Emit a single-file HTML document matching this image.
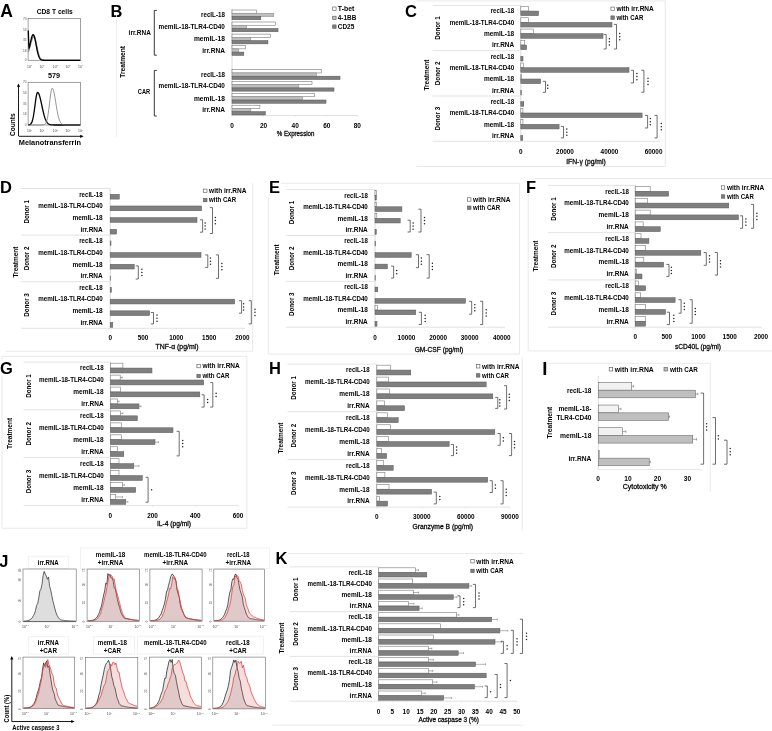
<!DOCTYPE html>
<html><head><meta charset="utf-8"><title>Figure</title>
<style>html,body{margin:0;padding:0;background:#fff;width:772px;height:731px;overflow:hidden}</style>
</head><body>
<svg width="772" height="731" viewBox="0 0 772 731" style="display:block">
<style>text{stroke:#1a1a1a;stroke-width:0.0px;paint-order:stroke} text[font-weight=bold]{stroke-width:0.0px} text.t{stroke:none} text.r{stroke:#222;stroke-width:0.28px}</style>
<g font-family="'Liberation Sans', Arial, sans-serif">
<path d="M416.3 0.9H665.3V166.5H416.3" fill="none" stroke="#e4e4e4" stroke-width="0.8"/>
<rect x="404" y="3.83" width="13.2" height="14.19" fill="#fff"/>
<text x="405" y="16.7" font-size="16.5" font-weight="bold" fill="#000">C</text>
<line x1="432.6" y1="5.4" x2="520.8" y2="5.4" stroke="#dcdcdc" stroke-width="0.8"/>
<line x1="432.6" y1="50.7" x2="520.8" y2="50.7" stroke="#dcdcdc" stroke-width="0.8"/>
<line x1="432.6" y1="96" x2="520.8" y2="96" stroke="#dcdcdc" stroke-width="0.8"/>
<line x1="432.6" y1="141.3" x2="520.8" y2="141.3" stroke="#dcdcdc" stroke-width="0.8"/>
<line x1="520.8" y1="5.4" x2="520.8" y2="141.3" stroke="#cfcfcf" stroke-width="0.8"/>
<line x1="520.8" y1="141.3" x2="660" y2="141.3" stroke="#dcdcdc" stroke-width="0.8"/>
<line x1="520.8" y1="141.3" x2="520.8" y2="142.8" stroke="#dcdcdc" stroke-width="0.6"/>
<line x1="565" y1="141.3" x2="565" y2="142.8" stroke="#dcdcdc" stroke-width="0.6"/>
<line x1="609.5" y1="141.3" x2="609.5" y2="142.8" stroke="#dcdcdc" stroke-width="0.6"/>
<line x1="653.6" y1="141.3" x2="653.6" y2="142.8" stroke="#dcdcdc" stroke-width="0.6"/>
<text x="514.2" y="13.35" font-size="6.35" text-anchor="end" font-weight="bold" textLength="23.5" lengthAdjust="spacingAndGlyphs">recIL-18</text>
<text x="514.2" y="24.67" font-size="6.35" text-anchor="end" font-weight="bold" textLength="64.5" lengthAdjust="spacingAndGlyphs">memIL-18-TLR4-CD40</text>
<text x="514.2" y="36" font-size="6.35" text-anchor="end" font-weight="bold" textLength="30.3" lengthAdjust="spacingAndGlyphs">memIL-18</text>
<text x="514.2" y="47.32" font-size="6.35" text-anchor="end" font-weight="bold" textLength="22.3" lengthAdjust="spacingAndGlyphs">irr.RNA</text>
<text x="514.2" y="58.65" font-size="6.35" text-anchor="end" font-weight="bold" textLength="23.5" lengthAdjust="spacingAndGlyphs">recIL-18</text>
<text x="514.2" y="69.97" font-size="6.35" text-anchor="end" font-weight="bold" textLength="64.5" lengthAdjust="spacingAndGlyphs">memIL-18-TLR4-CD40</text>
<text x="514.2" y="81.3" font-size="6.35" text-anchor="end" font-weight="bold" textLength="30.3" lengthAdjust="spacingAndGlyphs">memIL-18</text>
<text x="514.2" y="92.62" font-size="6.35" text-anchor="end" font-weight="bold" textLength="22.3" lengthAdjust="spacingAndGlyphs">irr.RNA</text>
<text x="514.2" y="103.95" font-size="6.35" text-anchor="end" font-weight="bold" textLength="23.5" lengthAdjust="spacingAndGlyphs">recIL-18</text>
<text x="514.2" y="115.27" font-size="6.35" text-anchor="end" font-weight="bold" textLength="64.5" lengthAdjust="spacingAndGlyphs">memIL-18-TLR4-CD40</text>
<text x="514.2" y="126.6" font-size="6.35" text-anchor="end" font-weight="bold" textLength="30.3" lengthAdjust="spacingAndGlyphs">memIL-18</text>
<text x="514.2" y="137.92" font-size="6.35" text-anchor="end" font-weight="bold" textLength="22.3" lengthAdjust="spacingAndGlyphs">irr.RNA</text>
<text x="439.88" y="28.05" font-size="6.6" text-anchor="middle" font-weight="bold" textLength="23.6" lengthAdjust="spacingAndGlyphs" transform="rotate(-90 439.88 28.05)">Donor 1</text>
<text x="439.88" y="73.35" font-size="6.6" text-anchor="middle" font-weight="bold" textLength="23.6" lengthAdjust="spacingAndGlyphs" transform="rotate(-90 439.88 73.35)">Donor 2</text>
<text x="439.88" y="118.65" font-size="6.6" text-anchor="middle" font-weight="bold" textLength="23.6" lengthAdjust="spacingAndGlyphs" transform="rotate(-90 439.88 118.65)">Donor 3</text>
<text x="428.68" y="75" font-size="6.6" text-anchor="middle" font-weight="bold" textLength="31" lengthAdjust="spacingAndGlyphs" transform="rotate(-90 428.68 75)">Treatment</text>
<rect x="520.8" y="6.42" width="7.8" height="4.64" fill="#fff" stroke="#7a7a7a" stroke-width="0.6"/>
<rect x="520.8" y="11.06" width="17.7" height="4.64" fill="#7f7f7f" stroke="#5a5a5a" stroke-width="0.5"/>
<rect x="520.8" y="17.74" width="7.8" height="4.64" fill="#fff" stroke="#7a7a7a" stroke-width="0.6"/>
<rect x="520.8" y="22.39" width="91.2" height="4.64" fill="#7f7f7f" stroke="#5a5a5a" stroke-width="0.5"/>
<rect x="520.8" y="29.07" width="12.7" height="4.64" fill="#fff" stroke="#7a7a7a" stroke-width="0.6"/>
<rect x="520.8" y="33.71" width="82.2" height="4.64" fill="#7f7f7f" stroke="#5a5a5a" stroke-width="0.5"/>
<rect x="520.8" y="40.39" width="3.9" height="4.64" fill="#fff" stroke="#7a7a7a" stroke-width="0.6"/>
<rect x="520.8" y="45.04" width="5.9" height="4.64" fill="#7f7f7f" stroke="#5a5a5a" stroke-width="0.5"/>
<rect x="520.8" y="56.36" width="2.2" height="4.64" fill="#7f7f7f" stroke="#5a5a5a" stroke-width="0.5"/>
<rect x="520.8" y="63.04" width="2.6" height="4.64" fill="#fff" stroke="#7a7a7a" stroke-width="0.6"/>
<rect x="520.8" y="67.69" width="108.2" height="4.64" fill="#7f7f7f" stroke="#5a5a5a" stroke-width="0.5"/>
<rect x="520.8" y="74.37" width="0.5" height="4.64" fill="#fff" stroke="#7a7a7a" stroke-width="0.6"/>
<rect x="520.8" y="79.01" width="19.9" height="4.64" fill="#7f7f7f" stroke="#5a5a5a" stroke-width="0.5"/>
<rect x="520.8" y="90.34" width="0.6" height="4.64" fill="#7f7f7f" stroke="#5a5a5a" stroke-width="0.5"/>
<rect x="520.8" y="101.66" width="3" height="4.64" fill="#7f7f7f" stroke="#5a5a5a" stroke-width="0.5"/>
<rect x="520.8" y="108.34" width="2.1" height="4.64" fill="#fff" stroke="#7a7a7a" stroke-width="0.6"/>
<rect x="520.8" y="112.99" width="121.3" height="4.64" fill="#7f7f7f" stroke="#5a5a5a" stroke-width="0.5"/>
<rect x="520.8" y="119.67" width="2.1" height="4.64" fill="#fff" stroke="#7a7a7a" stroke-width="0.6"/>
<rect x="520.8" y="124.31" width="38.3" height="4.64" fill="#7f7f7f" stroke="#5a5a5a" stroke-width="0.5"/>
<rect x="520.8" y="135.64" width="2" height="4.64" fill="#7f7f7f" stroke="#5a5a5a" stroke-width="0.5"/>
<text x="520.8" y="154" font-size="6.4" text-anchor="middle" font-weight="bold">0</text>
<text x="565" y="154" font-size="6.4" text-anchor="middle" font-weight="bold">20000</text>
<text x="609.5" y="154" font-size="6.4" text-anchor="middle" font-weight="bold">40000</text>
<text x="653.6" y="154" font-size="6.4" text-anchor="middle" font-weight="bold">60000</text>
<text x="586" y="163.9" font-size="6.6" text-anchor="middle" class="r" textLength="39.6" lengthAdjust="spacingAndGlyphs">IFN-γ (pg/ml)</text>
<rect x="610.9" y="7.1" width="3.4" height="3.4" fill="#fff" stroke="#555" stroke-width="0.6"/>
<rect x="610.9" y="15.9" width="3.4" height="3.4" fill="#7f7f7f" stroke="#555" stroke-width="0.6"/>
<text x="616.4" y="11.1" font-size="6.6" font-weight="bold" textLength="37.4" lengthAdjust="spacingAndGlyphs">with irr.RNA</text>
<text x="616.4" y="19.9" font-size="6.6" font-weight="bold" textLength="27" lengthAdjust="spacingAndGlyphs">with CAR</text>
<path d="M603.6 34.6H606.2V49H603.6" fill="none" stroke="#4a4a4a" stroke-width="0.8"/>
<circle cx="609.4" cy="38.7" r="0.75" fill="#222"/>
<circle cx="609.4" cy="41.8" r="0.75" fill="#222"/>
<circle cx="609.4" cy="44.9" r="0.75" fill="#222"/>
<path d="M613.9 24.4H616.5V49H613.9" fill="none" stroke="#4a4a4a" stroke-width="0.8"/>
<circle cx="619.7" cy="33.6" r="0.75" fill="#222"/>
<circle cx="619.7" cy="36.7" r="0.75" fill="#222"/>
<circle cx="619.7" cy="39.8" r="0.75" fill="#222"/>
<path d="M542.9 81.3H545.5V92.3H542.9" fill="none" stroke="#4a4a4a" stroke-width="0.8"/>
<circle cx="547.7" cy="85.25" r="0.75" fill="#222"/>
<circle cx="547.7" cy="88.35" r="0.75" fill="#222"/>
<path d="M630.9 70.3H633.5V82.9H630.9" fill="none" stroke="#4a4a4a" stroke-width="0.8"/>
<circle cx="636.9" cy="73.5" r="0.75" fill="#222"/>
<circle cx="636.9" cy="76.6" r="0.75" fill="#222"/>
<circle cx="636.9" cy="79.7" r="0.75" fill="#222"/>
<path d="M641.3 70.3H643.9V92.3H641.3" fill="none" stroke="#4a4a4a" stroke-width="0.8"/>
<circle cx="648" cy="78.2" r="0.75" fill="#222"/>
<circle cx="648" cy="81.3" r="0.75" fill="#222"/>
<circle cx="648" cy="84.4" r="0.75" fill="#222"/>
<path d="M560.9 126.4H563.5V137.9H560.9" fill="none" stroke="#4a4a4a" stroke-width="0.8"/>
<circle cx="566.8" cy="129.05" r="0.75" fill="#222"/>
<circle cx="566.8" cy="132.15" r="0.75" fill="#222"/>
<circle cx="566.8" cy="135.25" r="0.75" fill="#222"/>
<path d="M645 115.4H647.6V128H645" fill="none" stroke="#4a4a4a" stroke-width="0.8"/>
<circle cx="650.3" cy="118.6" r="0.75" fill="#222"/>
<circle cx="650.3" cy="121.7" r="0.75" fill="#222"/>
<circle cx="650.3" cy="124.8" r="0.75" fill="#222"/>
<path d="M654.5 115.4H657.1V137.9H654.5" fill="none" stroke="#4a4a4a" stroke-width="0.8"/>
<circle cx="661.3" cy="123.55" r="0.75" fill="#222"/>
<circle cx="661.3" cy="126.65" r="0.75" fill="#222"/>
<circle cx="661.3" cy="129.75" r="0.75" fill="#222"/>
<path d="M252.6 183V351.3H5.9" fill="none" stroke="#e4e4e4" stroke-width="0.8"/>
<rect x="-1" y="179.83" width="13.2" height="14.19" fill="#fff"/>
<text x="0" y="192.7" font-size="16.5" font-weight="bold" fill="#000">D</text>
<line x1="21" y1="188.5" x2="110.2" y2="188.5" stroke="#dcdcdc" stroke-width="0.8"/>
<line x1="21" y1="235.1" x2="110.2" y2="235.1" stroke="#dcdcdc" stroke-width="0.8"/>
<line x1="21" y1="281.7" x2="110.2" y2="281.7" stroke="#dcdcdc" stroke-width="0.8"/>
<line x1="21" y1="328.3" x2="110.2" y2="328.3" stroke="#dcdcdc" stroke-width="0.8"/>
<line x1="110.2" y1="188.5" x2="110.2" y2="328.3" stroke="#cfcfcf" stroke-width="0.8"/>
<line x1="110.2" y1="328.3" x2="245" y2="328.3" stroke="#dcdcdc" stroke-width="0.8"/>
<line x1="110.2" y1="328.3" x2="110.2" y2="329.8" stroke="#dcdcdc" stroke-width="0.6"/>
<line x1="143.1" y1="328.3" x2="143.1" y2="329.8" stroke="#dcdcdc" stroke-width="0.6"/>
<line x1="176.3" y1="328.3" x2="176.3" y2="329.8" stroke="#dcdcdc" stroke-width="0.6"/>
<line x1="209.2" y1="328.3" x2="209.2" y2="329.8" stroke="#dcdcdc" stroke-width="0.6"/>
<line x1="242.4" y1="328.3" x2="242.4" y2="329.8" stroke="#dcdcdc" stroke-width="0.6"/>
<text x="102.7" y="196.61" font-size="6.35" text-anchor="end" font-weight="bold" textLength="23.5" lengthAdjust="spacingAndGlyphs">recIL-18</text>
<text x="102.7" y="208.26" font-size="6.35" text-anchor="end" font-weight="bold" textLength="64.5" lengthAdjust="spacingAndGlyphs">memIL-18-TLR4-CD40</text>
<text x="102.7" y="219.91" font-size="6.35" text-anchor="end" font-weight="bold" textLength="30.3" lengthAdjust="spacingAndGlyphs">memIL-18</text>
<text x="102.7" y="231.56" font-size="6.35" text-anchor="end" font-weight="bold" textLength="22.3" lengthAdjust="spacingAndGlyphs">irr.RNA</text>
<text x="102.7" y="243.21" font-size="6.35" text-anchor="end" font-weight="bold" textLength="23.5" lengthAdjust="spacingAndGlyphs">recIL-18</text>
<text x="102.7" y="254.86" font-size="6.35" text-anchor="end" font-weight="bold" textLength="64.5" lengthAdjust="spacingAndGlyphs">memIL-18-TLR4-CD40</text>
<text x="102.7" y="266.51" font-size="6.35" text-anchor="end" font-weight="bold" textLength="30.3" lengthAdjust="spacingAndGlyphs">memIL-18</text>
<text x="102.7" y="278.16" font-size="6.35" text-anchor="end" font-weight="bold" textLength="22.3" lengthAdjust="spacingAndGlyphs">irr.RNA</text>
<text x="102.7" y="289.81" font-size="6.35" text-anchor="end" font-weight="bold" textLength="23.5" lengthAdjust="spacingAndGlyphs">recIL-18</text>
<text x="102.7" y="301.46" font-size="6.35" text-anchor="end" font-weight="bold" textLength="64.5" lengthAdjust="spacingAndGlyphs">memIL-18-TLR4-CD40</text>
<text x="102.7" y="313.11" font-size="6.35" text-anchor="end" font-weight="bold" textLength="30.3" lengthAdjust="spacingAndGlyphs">memIL-18</text>
<text x="102.7" y="324.76" font-size="6.35" text-anchor="end" font-weight="bold" textLength="22.3" lengthAdjust="spacingAndGlyphs">irr.RNA</text>
<text x="29.28" y="211.8" font-size="6.6" text-anchor="middle" font-weight="bold" textLength="23.6" lengthAdjust="spacingAndGlyphs" transform="rotate(-90 29.28 211.8)">Donor 1</text>
<text x="29.28" y="258.4" font-size="6.6" text-anchor="middle" font-weight="bold" textLength="23.6" lengthAdjust="spacingAndGlyphs" transform="rotate(-90 29.28 258.4)">Donor 2</text>
<text x="29.28" y="305" font-size="6.6" text-anchor="middle" font-weight="bold" textLength="23.6" lengthAdjust="spacingAndGlyphs" transform="rotate(-90 29.28 305)">Donor 3</text>
<text x="17.58" y="262" font-size="6.6" text-anchor="middle" font-weight="bold" textLength="31" lengthAdjust="spacingAndGlyphs" transform="rotate(-90 17.58 262)">Treatment</text>
<rect x="110.2" y="194.32" width="9.1" height="4.78" fill="#7f7f7f" stroke="#5a5a5a" stroke-width="0.5"/>
<rect x="110.2" y="205.97" width="91.4" height="4.78" fill="#7f7f7f" stroke="#5a5a5a" stroke-width="0.5"/>
<rect x="110.2" y="217.62" width="86.8" height="4.78" fill="#7f7f7f" stroke="#5a5a5a" stroke-width="0.5"/>
<rect x="110.2" y="229.28" width="6.4" height="4.78" fill="#7f7f7f" stroke="#5a5a5a" stroke-width="0.5"/>
<rect x="110.2" y="240.93" width="0.8" height="4.78" fill="#7f7f7f" stroke="#5a5a5a" stroke-width="0.5"/>
<rect x="110.2" y="252.57" width="90.8" height="4.78" fill="#7f7f7f" stroke="#5a5a5a" stroke-width="0.5"/>
<rect x="110.2" y="264.23" width="24" height="4.78" fill="#7f7f7f" stroke="#5a5a5a" stroke-width="0.5"/>
<rect x="110.2" y="275.88" width="0.4" height="4.78" fill="#7f7f7f" stroke="#5a5a5a" stroke-width="0.5"/>
<rect x="110.2" y="287.52" width="1.2" height="4.78" fill="#7f7f7f" stroke="#5a5a5a" stroke-width="0.5"/>
<rect x="110.2" y="299.18" width="124.5" height="4.78" fill="#7f7f7f" stroke="#5a5a5a" stroke-width="0.5"/>
<rect x="110.2" y="310.82" width="39.5" height="4.78" fill="#7f7f7f" stroke="#5a5a5a" stroke-width="0.5"/>
<rect x="110.2" y="322.48" width="2.6" height="4.78" fill="#7f7f7f" stroke="#5a5a5a" stroke-width="0.5"/>
<text x="110.2" y="340.2" font-size="6.4" text-anchor="middle" font-weight="bold">0</text>
<text x="143.1" y="340.2" font-size="6.4" text-anchor="middle" font-weight="bold">500</text>
<text x="176.3" y="340.2" font-size="6.4" text-anchor="middle" font-weight="bold">1000</text>
<text x="209.2" y="340.2" font-size="6.4" text-anchor="middle" font-weight="bold">1500</text>
<text x="242.4" y="340.2" font-size="6.4" text-anchor="middle" font-weight="bold">2000</text>
<text x="177" y="349.2" font-size="6.6" text-anchor="middle" class="r" textLength="42.9" lengthAdjust="spacingAndGlyphs">TNF-α (pg/ml)</text>
<rect x="203.6" y="189.1" width="3.4" height="3.4" fill="#fff" stroke="#555" stroke-width="0.6"/>
<rect x="203.6" y="198.4" width="3.4" height="3.4" fill="#7f7f7f" stroke="#555" stroke-width="0.6"/>
<text x="209.1" y="193.1" font-size="6.6" font-weight="bold" textLength="37.4" lengthAdjust="spacingAndGlyphs">with irr.RNA</text>
<text x="209.1" y="202.4" font-size="6.6" font-weight="bold" textLength="27" lengthAdjust="spacingAndGlyphs">with CAR</text>
<path d="M200 219.8H202.6V232.2H200" fill="none" stroke="#4a4a4a" stroke-width="0.8"/>
<circle cx="205.1" cy="222.9" r="0.75" fill="#222"/>
<circle cx="205.1" cy="226" r="0.75" fill="#222"/>
<circle cx="205.1" cy="229.1" r="0.75" fill="#222"/>
<path d="M209.9 207.6H212.5V233.5H209.9" fill="none" stroke="#4a4a4a" stroke-width="0.8"/>
<circle cx="215.4" cy="217.45" r="0.75" fill="#222"/>
<circle cx="215.4" cy="220.55" r="0.75" fill="#222"/>
<circle cx="215.4" cy="223.65" r="0.75" fill="#222"/>
<path d="M135.7 265.9H138.3V279H135.7" fill="none" stroke="#4a4a4a" stroke-width="0.8"/>
<circle cx="141.9" cy="269.35" r="0.75" fill="#222"/>
<circle cx="141.9" cy="272.45" r="0.75" fill="#222"/>
<circle cx="141.9" cy="275.55" r="0.75" fill="#222"/>
<path d="M205.2 254.9H207.8V267.4H205.2" fill="none" stroke="#4a4a4a" stroke-width="0.8"/>
<circle cx="210.5" cy="258.05" r="0.75" fill="#222"/>
<circle cx="210.5" cy="261.15" r="0.75" fill="#222"/>
<circle cx="210.5" cy="264.25" r="0.75" fill="#222"/>
<path d="M215.9 254.9H218.5V278.3H215.9" fill="none" stroke="#4a4a4a" stroke-width="0.8"/>
<circle cx="221.9" cy="263.5" r="0.75" fill="#222"/>
<circle cx="221.9" cy="266.6" r="0.75" fill="#222"/>
<circle cx="221.9" cy="269.7" r="0.75" fill="#222"/>
<path d="M150.9 312.5H153.5V323.9H150.9" fill="none" stroke="#4a4a4a" stroke-width="0.8"/>
<circle cx="157" cy="315.1" r="0.75" fill="#222"/>
<circle cx="157" cy="318.2" r="0.75" fill="#222"/>
<circle cx="157" cy="321.3" r="0.75" fill="#222"/>
<path d="M239 300.7H241.6V313.2H239" fill="none" stroke="#4a4a4a" stroke-width="0.8"/>
<circle cx="243.6" cy="303.85" r="0.75" fill="#222"/>
<circle cx="243.6" cy="306.95" r="0.75" fill="#222"/>
<circle cx="243.6" cy="310.05" r="0.75" fill="#222"/>
<path d="M248.7 300.7H251.3V323.9H248.7" fill="none" stroke="#4a4a4a" stroke-width="0.8"/>
<circle cx="255" cy="309.2" r="0.75" fill="#222"/>
<circle cx="255" cy="312.3" r="0.75" fill="#222"/>
<circle cx="255" cy="315.4" r="0.75" fill="#222"/>
<path d="M268.4 197V354.1H519.5V183.3H278.8" fill="none" stroke="#e4e4e4" stroke-width="0.8"/>
<rect x="268" y="179.83" width="13.2" height="14.19" fill="#fff"/>
<text x="269" y="192.7" font-size="16.5" font-weight="bold" fill="#000">E</text>
<line x1="285.8" y1="189.6" x2="375" y2="189.6" stroke="#dcdcdc" stroke-width="0.8"/>
<line x1="285.8" y1="235.47" x2="375" y2="235.47" stroke="#dcdcdc" stroke-width="0.8"/>
<line x1="285.8" y1="281.33" x2="375" y2="281.33" stroke="#dcdcdc" stroke-width="0.8"/>
<line x1="285.8" y1="327.2" x2="375" y2="327.2" stroke="#dcdcdc" stroke-width="0.8"/>
<line x1="375" y1="189.6" x2="375" y2="327.2" stroke="#cfcfcf" stroke-width="0.8"/>
<line x1="375" y1="327.2" x2="505" y2="327.2" stroke="#dcdcdc" stroke-width="0.8"/>
<line x1="375" y1="327.2" x2="375" y2="328.7" stroke="#dcdcdc" stroke-width="0.6"/>
<line x1="406.5" y1="327.2" x2="406.5" y2="328.7" stroke="#dcdcdc" stroke-width="0.6"/>
<line x1="438.2" y1="327.2" x2="438.2" y2="328.7" stroke="#dcdcdc" stroke-width="0.6"/>
<line x1="469.7" y1="327.2" x2="469.7" y2="328.7" stroke="#dcdcdc" stroke-width="0.6"/>
<line x1="501.8" y1="327.2" x2="501.8" y2="328.7" stroke="#dcdcdc" stroke-width="0.6"/>
<text x="367.8" y="197.62" font-size="6.35" text-anchor="end" font-weight="bold" textLength="23.5" lengthAdjust="spacingAndGlyphs">recIL-18</text>
<text x="367.8" y="209.09" font-size="6.35" text-anchor="end" font-weight="bold" textLength="64.5" lengthAdjust="spacingAndGlyphs">memIL-18-TLR4-CD40</text>
<text x="367.8" y="220.55" font-size="6.35" text-anchor="end" font-weight="bold" textLength="30.3" lengthAdjust="spacingAndGlyphs">memIL-18</text>
<text x="367.8" y="232.02" font-size="6.35" text-anchor="end" font-weight="bold" textLength="22.3" lengthAdjust="spacingAndGlyphs">irr.RNA</text>
<text x="367.8" y="243.49" font-size="6.35" text-anchor="end" font-weight="bold" textLength="23.5" lengthAdjust="spacingAndGlyphs">recIL-18</text>
<text x="367.8" y="254.95" font-size="6.35" text-anchor="end" font-weight="bold" textLength="64.5" lengthAdjust="spacingAndGlyphs">memIL-18-TLR4-CD40</text>
<text x="367.8" y="266.42" font-size="6.35" text-anchor="end" font-weight="bold" textLength="30.3" lengthAdjust="spacingAndGlyphs">memIL-18</text>
<text x="367.8" y="277.89" font-size="6.35" text-anchor="end" font-weight="bold" textLength="22.3" lengthAdjust="spacingAndGlyphs">irr.RNA</text>
<text x="367.8" y="289.35" font-size="6.35" text-anchor="end" font-weight="bold" textLength="23.5" lengthAdjust="spacingAndGlyphs">recIL-18</text>
<text x="367.8" y="300.82" font-size="6.35" text-anchor="end" font-weight="bold" textLength="64.5" lengthAdjust="spacingAndGlyphs">memIL-18-TLR4-CD40</text>
<text x="367.8" y="312.29" font-size="6.35" text-anchor="end" font-weight="bold" textLength="30.3" lengthAdjust="spacingAndGlyphs">memIL-18</text>
<text x="367.8" y="323.75" font-size="6.35" text-anchor="end" font-weight="bold" textLength="22.3" lengthAdjust="spacingAndGlyphs">irr.RNA</text>
<text x="294.18" y="212.53" font-size="6.6" text-anchor="middle" font-weight="bold" textLength="23.6" lengthAdjust="spacingAndGlyphs" transform="rotate(-90 294.18 212.53)">Donor 1</text>
<text x="294.18" y="258.4" font-size="6.6" text-anchor="middle" font-weight="bold" textLength="23.6" lengthAdjust="spacingAndGlyphs" transform="rotate(-90 294.18 258.4)">Donor 2</text>
<text x="294.18" y="304.27" font-size="6.6" text-anchor="middle" font-weight="bold" textLength="23.6" lengthAdjust="spacingAndGlyphs" transform="rotate(-90 294.18 304.27)">Donor 3</text>
<text x="278.78" y="259.8" font-size="6.6" text-anchor="middle" font-weight="bold" textLength="31" lengthAdjust="spacingAndGlyphs" transform="rotate(-90 278.78 259.8)">Treatment</text>
<rect x="375" y="190.63" width="1.3" height="4.7" fill="#fff" stroke="#7a7a7a" stroke-width="0.6"/>
<rect x="375" y="195.33" width="1.4" height="4.7" fill="#7f7f7f" stroke="#5a5a5a" stroke-width="0.5"/>
<rect x="375" y="202.1" width="1.5" height="4.7" fill="#fff" stroke="#7a7a7a" stroke-width="0.6"/>
<rect x="375" y="206.8" width="26.9" height="4.7" fill="#7f7f7f" stroke="#5a5a5a" stroke-width="0.5"/>
<rect x="375" y="213.57" width="1.8" height="4.7" fill="#fff" stroke="#7a7a7a" stroke-width="0.6"/>
<rect x="375" y="218.27" width="25.2" height="4.7" fill="#7f7f7f" stroke="#5a5a5a" stroke-width="0.5"/>
<rect x="375" y="229.73" width="1.3" height="4.7" fill="#7f7f7f" stroke="#5a5a5a" stroke-width="0.5"/>
<rect x="375" y="241.2" width="0.6" height="4.7" fill="#7f7f7f" stroke="#5a5a5a" stroke-width="0.5"/>
<rect x="375" y="252.67" width="36.2" height="4.7" fill="#7f7f7f" stroke="#5a5a5a" stroke-width="0.5"/>
<rect x="375" y="264.13" width="12.4" height="4.7" fill="#7f7f7f" stroke="#5a5a5a" stroke-width="0.5"/>
<rect x="375" y="275.6" width="0.3" height="4.7" fill="#7f7f7f" stroke="#5a5a5a" stroke-width="0.5"/>
<rect x="375" y="287.07" width="2.8" height="4.7" fill="#7f7f7f" stroke="#5a5a5a" stroke-width="0.5"/>
<rect x="375" y="298.53" width="90.5" height="4.7" fill="#7f7f7f" stroke="#5a5a5a" stroke-width="0.5"/>
<rect x="375" y="305.3" width="2.4" height="4.7" fill="#fff" stroke="#7a7a7a" stroke-width="0.6"/>
<rect x="375" y="310" width="40.8" height="4.7" fill="#7f7f7f" stroke="#5a5a5a" stroke-width="0.5"/>
<rect x="375" y="321.47" width="2" height="4.7" fill="#7f7f7f" stroke="#5a5a5a" stroke-width="0.5"/>
<text x="375" y="339.9" font-size="6.4" text-anchor="middle" font-weight="bold">0</text>
<text x="406.5" y="339.9" font-size="6.4" text-anchor="middle" font-weight="bold">10000</text>
<text x="438.2" y="339.9" font-size="6.4" text-anchor="middle" font-weight="bold">20000</text>
<text x="469.7" y="339.9" font-size="6.4" text-anchor="middle" font-weight="bold">30000</text>
<text x="501.8" y="339.9" font-size="6.4" text-anchor="middle" font-weight="bold">40000</text>
<text x="439" y="351.7" font-size="6.6" text-anchor="middle" class="r" textLength="48.7" lengthAdjust="spacingAndGlyphs">GM-CSF (pg/ml)</text>
<rect x="467.6" y="197.8" width="3.4" height="3.4" fill="#fff" stroke="#555" stroke-width="0.6"/>
<rect x="467.6" y="206" width="3.4" height="3.4" fill="#7f7f7f" stroke="#555" stroke-width="0.6"/>
<text x="473.1" y="201.8" font-size="6.6" font-weight="bold" textLength="37.4" lengthAdjust="spacingAndGlyphs">with irr.RNA</text>
<text x="473.1" y="210" font-size="6.6" font-weight="bold" textLength="27" lengthAdjust="spacingAndGlyphs">with CAR</text>
<path d="M407.6 220.2H410.2V232H407.6" fill="none" stroke="#4a4a4a" stroke-width="0.8"/>
<circle cx="413.1" cy="223" r="0.75" fill="#222"/>
<circle cx="413.1" cy="226.1" r="0.75" fill="#222"/>
<circle cx="413.1" cy="229.2" r="0.75" fill="#222"/>
<path d="M418.4 209.2H421V232H418.4" fill="none" stroke="#4a4a4a" stroke-width="0.8"/>
<circle cx="424.5" cy="217.5" r="0.75" fill="#222"/>
<circle cx="424.5" cy="220.6" r="0.75" fill="#222"/>
<circle cx="424.5" cy="223.7" r="0.75" fill="#222"/>
<path d="M391 266.1H393.6V278.1H391" fill="none" stroke="#4a4a4a" stroke-width="0.8"/>
<circle cx="396.7" cy="270.55" r="0.75" fill="#222"/>
<circle cx="396.7" cy="273.65" r="0.75" fill="#222"/>
<path d="M415.9 254.7H418.5V267.7H415.9" fill="none" stroke="#4a4a4a" stroke-width="0.8"/>
<circle cx="421.4" cy="258.1" r="0.75" fill="#222"/>
<circle cx="421.4" cy="261.2" r="0.75" fill="#222"/>
<circle cx="421.4" cy="264.3" r="0.75" fill="#222"/>
<path d="M426.6 254.7H429.2V278.1H426.6" fill="none" stroke="#4a4a4a" stroke-width="0.8"/>
<circle cx="432.4" cy="263.3" r="0.75" fill="#222"/>
<circle cx="432.4" cy="266.4" r="0.75" fill="#222"/>
<circle cx="432.4" cy="269.5" r="0.75" fill="#222"/>
<path d="M418.8 312.3H421.4V324.5H418.8" fill="none" stroke="#4a4a4a" stroke-width="0.8"/>
<circle cx="425.1" cy="315.3" r="0.75" fill="#222"/>
<circle cx="425.1" cy="318.4" r="0.75" fill="#222"/>
<circle cx="425.1" cy="321.5" r="0.75" fill="#222"/>
<path d="M469.1 301.3H471.7V314.2H469.1" fill="none" stroke="#4a4a4a" stroke-width="0.8"/>
<circle cx="474.8" cy="304.65" r="0.75" fill="#222"/>
<circle cx="474.8" cy="307.75" r="0.75" fill="#222"/>
<circle cx="474.8" cy="310.85" r="0.75" fill="#222"/>
<path d="M480.1 301.3H482.7V324.5H480.1" fill="none" stroke="#4a4a4a" stroke-width="0.8"/>
<circle cx="486.2" cy="309.8" r="0.75" fill="#222"/>
<circle cx="486.2" cy="312.9" r="0.75" fill="#222"/>
<circle cx="486.2" cy="316" r="0.75" fill="#222"/>
<path d="M534.5 178.5H773M528.2 193V350.9H773" fill="none" stroke="#e4e4e4" stroke-width="0.8"/>
<rect x="525" y="179.83" width="13.2" height="14.19" fill="#fff"/>
<text x="526" y="192.7" font-size="16.5" font-weight="bold" fill="#000">F</text>
<line x1="548.1" y1="185.4" x2="635.2" y2="185.4" stroke="#dcdcdc" stroke-width="0.8"/>
<line x1="548.1" y1="232.67" x2="635.2" y2="232.67" stroke="#dcdcdc" stroke-width="0.8"/>
<line x1="548.1" y1="279.93" x2="635.2" y2="279.93" stroke="#dcdcdc" stroke-width="0.8"/>
<line x1="548.1" y1="327.2" x2="635.2" y2="327.2" stroke="#dcdcdc" stroke-width="0.8"/>
<line x1="635.2" y1="185.4" x2="635.2" y2="327.2" stroke="#cfcfcf" stroke-width="0.8"/>
<line x1="635.2" y1="327.2" x2="761.5" y2="327.2" stroke="#dcdcdc" stroke-width="0.8"/>
<line x1="635.2" y1="327.2" x2="635.2" y2="328.7" stroke="#dcdcdc" stroke-width="0.6"/>
<line x1="666.8" y1="327.2" x2="666.8" y2="328.7" stroke="#dcdcdc" stroke-width="0.6"/>
<line x1="698.4" y1="327.2" x2="698.4" y2="328.7" stroke="#dcdcdc" stroke-width="0.6"/>
<line x1="729.7" y1="327.2" x2="729.7" y2="328.7" stroke="#dcdcdc" stroke-width="0.6"/>
<line x1="761" y1="327.2" x2="761" y2="328.7" stroke="#dcdcdc" stroke-width="0.6"/>
<text x="628.8" y="193.59" font-size="6.35" text-anchor="end" font-weight="bold" textLength="23.5" lengthAdjust="spacingAndGlyphs">recIL-18</text>
<text x="628.8" y="205.41" font-size="6.35" text-anchor="end" font-weight="bold" textLength="64.5" lengthAdjust="spacingAndGlyphs">memIL-18-TLR4-CD40</text>
<text x="628.8" y="217.23" font-size="6.35" text-anchor="end" font-weight="bold" textLength="30.3" lengthAdjust="spacingAndGlyphs">memIL-18</text>
<text x="628.8" y="229.04" font-size="6.35" text-anchor="end" font-weight="bold" textLength="22.3" lengthAdjust="spacingAndGlyphs">irr.RNA</text>
<text x="628.8" y="240.86" font-size="6.35" text-anchor="end" font-weight="bold" textLength="23.5" lengthAdjust="spacingAndGlyphs">recIL-18</text>
<text x="628.8" y="252.68" font-size="6.35" text-anchor="end" font-weight="bold" textLength="64.5" lengthAdjust="spacingAndGlyphs">memIL-18-TLR4-CD40</text>
<text x="628.8" y="264.49" font-size="6.35" text-anchor="end" font-weight="bold" textLength="30.3" lengthAdjust="spacingAndGlyphs">memIL-18</text>
<text x="628.8" y="276.31" font-size="6.35" text-anchor="end" font-weight="bold" textLength="22.3" lengthAdjust="spacingAndGlyphs">irr.RNA</text>
<text x="628.8" y="288.13" font-size="6.35" text-anchor="end" font-weight="bold" textLength="23.5" lengthAdjust="spacingAndGlyphs">recIL-18</text>
<text x="628.8" y="299.94" font-size="6.35" text-anchor="end" font-weight="bold" textLength="64.5" lengthAdjust="spacingAndGlyphs">memIL-18-TLR4-CD40</text>
<text x="628.8" y="311.76" font-size="6.35" text-anchor="end" font-weight="bold" textLength="30.3" lengthAdjust="spacingAndGlyphs">memIL-18</text>
<text x="628.8" y="323.58" font-size="6.35" text-anchor="end" font-weight="bold" textLength="22.3" lengthAdjust="spacingAndGlyphs">irr.RNA</text>
<text x="556.48" y="209.03" font-size="6.6" text-anchor="middle" font-weight="bold" textLength="23.6" lengthAdjust="spacingAndGlyphs" transform="rotate(-90 556.48 209.03)">Donor 1</text>
<text x="556.48" y="256.3" font-size="6.6" text-anchor="middle" font-weight="bold" textLength="23.6" lengthAdjust="spacingAndGlyphs" transform="rotate(-90 556.48 256.3)">Donor 2</text>
<text x="556.48" y="303.57" font-size="6.6" text-anchor="middle" font-weight="bold" textLength="23.6" lengthAdjust="spacingAndGlyphs" transform="rotate(-90 556.48 303.57)">Donor 3</text>
<text x="538.38" y="256" font-size="6.6" text-anchor="middle" font-weight="bold" textLength="31" lengthAdjust="spacingAndGlyphs" transform="rotate(-90 538.38 256)">Treatment</text>
<rect x="635.2" y="186.46" width="15" height="4.84" fill="#fff" stroke="#7a7a7a" stroke-width="0.6"/>
<rect x="635.2" y="191.31" width="33.4" height="4.84" fill="#7f7f7f" stroke="#5a5a5a" stroke-width="0.5"/>
<rect x="635.2" y="198.28" width="12.3" height="4.84" fill="#fff" stroke="#7a7a7a" stroke-width="0.6"/>
<rect x="635.2" y="203.12" width="93.6" height="4.84" fill="#7f7f7f" stroke="#5a5a5a" stroke-width="0.5"/>
<rect x="635.2" y="210.1" width="15" height="4.84" fill="#fff" stroke="#7a7a7a" stroke-width="0.6"/>
<rect x="635.2" y="214.94" width="103.3" height="4.84" fill="#7f7f7f" stroke="#5a5a5a" stroke-width="0.5"/>
<rect x="635.2" y="221.91" width="8" height="4.84" fill="#fff" stroke="#7a7a7a" stroke-width="0.6"/>
<rect x="635.2" y="226.76" width="25.1" height="4.84" fill="#7f7f7f" stroke="#5a5a5a" stroke-width="0.5"/>
<rect x="635.2" y="233.73" width="5.8" height="4.84" fill="#fff" stroke="#7a7a7a" stroke-width="0.6"/>
<rect x="635.2" y="238.57" width="13.7" height="4.84" fill="#7f7f7f" stroke="#5a5a5a" stroke-width="0.5"/>
<rect x="635.2" y="245.55" width="10.4" height="4.84" fill="#fff" stroke="#7a7a7a" stroke-width="0.6"/>
<rect x="635.2" y="250.39" width="65.6" height="4.84" fill="#7f7f7f" stroke="#5a5a5a" stroke-width="0.5"/>
<rect x="635.2" y="257.36" width="8.6" height="4.84" fill="#fff" stroke="#7a7a7a" stroke-width="0.6"/>
<rect x="635.2" y="262.21" width="28.5" height="4.84" fill="#7f7f7f" stroke="#5a5a5a" stroke-width="0.5"/>
<rect x="635.2" y="269.18" width="1.3" height="4.84" fill="#fff" stroke="#7a7a7a" stroke-width="0.6"/>
<rect x="635.2" y="274.02" width="6.8" height="4.84" fill="#7f7f7f" stroke="#5a5a5a" stroke-width="0.5"/>
<rect x="635.2" y="281" width="3.1" height="4.84" fill="#fff" stroke="#7a7a7a" stroke-width="0.6"/>
<rect x="635.2" y="285.84" width="10.4" height="4.84" fill="#7f7f7f" stroke="#5a5a5a" stroke-width="0.5"/>
<rect x="635.2" y="292.81" width="5.5" height="4.84" fill="#fff" stroke="#7a7a7a" stroke-width="0.6"/>
<rect x="635.2" y="297.66" width="39.9" height="4.84" fill="#7f7f7f" stroke="#5a5a5a" stroke-width="0.5"/>
<rect x="635.2" y="304.63" width="10.4" height="4.84" fill="#fff" stroke="#7a7a7a" stroke-width="0.6"/>
<rect x="635.2" y="309.47" width="30.3" height="4.84" fill="#7f7f7f" stroke="#5a5a5a" stroke-width="0.5"/>
<rect x="635.2" y="316.45" width="10.4" height="4.84" fill="#fff" stroke="#7a7a7a" stroke-width="0.6"/>
<rect x="635.2" y="321.29" width="10.4" height="4.84" fill="#7f7f7f" stroke="#5a5a5a" stroke-width="0.5"/>
<text x="635.2" y="339.1" font-size="6.4" text-anchor="middle" font-weight="bold">0</text>
<text x="666.8" y="339.1" font-size="6.4" text-anchor="middle" font-weight="bold">500</text>
<text x="698.4" y="339.1" font-size="6.4" text-anchor="middle" font-weight="bold">1000</text>
<text x="729.7" y="339.1" font-size="6.4" text-anchor="middle" font-weight="bold">1500</text>
<text x="761" y="339.1" font-size="6.4" text-anchor="middle" font-weight="bold">2000</text>
<text x="698" y="348.6" font-size="6.6" text-anchor="middle" class="r" textLength="45.9" lengthAdjust="spacingAndGlyphs">sCD40L (pg/ml)</text>
<rect x="721.4" y="185.8" width="3.4" height="3.4" fill="#fff" stroke="#555" stroke-width="0.6"/>
<rect x="721.4" y="194.8" width="3.4" height="3.4" fill="#7f7f7f" stroke="#555" stroke-width="0.6"/>
<text x="726.9" y="189.8" font-size="6.6" font-weight="bold" textLength="37.4" lengthAdjust="spacingAndGlyphs">with irr.RNA</text>
<text x="726.9" y="198.8" font-size="6.6" font-weight="bold" textLength="27" lengthAdjust="spacingAndGlyphs">with CAR</text>
<path d="M740 215.8H742.6V228.3H740" fill="none" stroke="#4a4a4a" stroke-width="0.8"/>
<circle cx="745.9" cy="218.95" r="0.75" fill="#222"/>
<circle cx="745.9" cy="222.05" r="0.75" fill="#222"/>
<circle cx="745.9" cy="225.15" r="0.75" fill="#222"/>
<path d="M751 204.4H753.6V228.3H751" fill="none" stroke="#4a4a4a" stroke-width="0.8"/>
<circle cx="756.9" cy="213.25" r="0.75" fill="#222"/>
<circle cx="756.9" cy="216.35" r="0.75" fill="#222"/>
<circle cx="756.9" cy="219.45" r="0.75" fill="#222"/>
<path d="M666.4 264.4H669V276.4H666.4" fill="none" stroke="#4a4a4a" stroke-width="0.8"/>
<circle cx="671.4" cy="267.3" r="0.75" fill="#222"/>
<circle cx="671.4" cy="270.4" r="0.75" fill="#222"/>
<circle cx="671.4" cy="273.5" r="0.75" fill="#222"/>
<path d="M703.7 252.5H706.3V265.3H703.7" fill="none" stroke="#4a4a4a" stroke-width="0.8"/>
<circle cx="709.5" cy="255.8" r="0.75" fill="#222"/>
<circle cx="709.5" cy="258.9" r="0.75" fill="#222"/>
<circle cx="709.5" cy="262" r="0.75" fill="#222"/>
<path d="M714.8 252.5H717.4V275.1H714.8" fill="none" stroke="#4a4a4a" stroke-width="0.8"/>
<circle cx="720.5" cy="260.7" r="0.75" fill="#222"/>
<circle cx="720.5" cy="263.8" r="0.75" fill="#222"/>
<circle cx="720.5" cy="266.9" r="0.75" fill="#222"/>
<path d="M666.9 312.2H669.5V324.6H666.9" fill="none" stroke="#4a4a4a" stroke-width="0.8"/>
<circle cx="673.8" cy="315.3" r="0.75" fill="#222"/>
<circle cx="673.8" cy="318.4" r="0.75" fill="#222"/>
<circle cx="673.8" cy="321.5" r="0.75" fill="#222"/>
<path d="M678.5 299.7H681.1V313.2H678.5" fill="none" stroke="#4a4a4a" stroke-width="0.8"/>
<circle cx="684.3" cy="303.35" r="0.75" fill="#222"/>
<circle cx="684.3" cy="306.45" r="0.75" fill="#222"/>
<circle cx="684.3" cy="309.55" r="0.75" fill="#222"/>
<path d="M689.6 299.7H692.2V323.3H689.6" fill="none" stroke="#4a4a4a" stroke-width="0.8"/>
<circle cx="695.3" cy="308.4" r="0.75" fill="#222"/>
<circle cx="695.3" cy="311.5" r="0.75" fill="#222"/>
<circle cx="695.3" cy="314.6" r="0.75" fill="#222"/>
<path d="M2 356.4H246.8V528.3H2Z" fill="none" stroke="#e4e4e4" stroke-width="0.8"/>
<rect x="-1" y="361.53" width="13.2" height="14.19" fill="#fff"/>
<text x="0" y="374.4" font-size="16.5" font-weight="bold" fill="#000">G</text>
<line x1="23.6" y1="362.1" x2="110.4" y2="362.1" stroke="#dcdcdc" stroke-width="0.8"/>
<line x1="23.6" y1="409.87" x2="110.4" y2="409.87" stroke="#dcdcdc" stroke-width="0.8"/>
<line x1="23.6" y1="457.63" x2="110.4" y2="457.63" stroke="#dcdcdc" stroke-width="0.8"/>
<line x1="23.6" y1="505.4" x2="110.4" y2="505.4" stroke="#dcdcdc" stroke-width="0.8"/>
<line x1="110.4" y1="362.1" x2="110.4" y2="505.4" stroke="#cfcfcf" stroke-width="0.8"/>
<line x1="110.4" y1="505.4" x2="238.1" y2="505.4" stroke="#dcdcdc" stroke-width="0.8"/>
<line x1="110.2" y1="505.4" x2="110.2" y2="506.9" stroke="#dcdcdc" stroke-width="0.6"/>
<line x1="152.6" y1="505.4" x2="152.6" y2="506.9" stroke="#dcdcdc" stroke-width="0.6"/>
<line x1="195.3" y1="505.4" x2="195.3" y2="506.9" stroke="#dcdcdc" stroke-width="0.6"/>
<line x1="238.1" y1="505.4" x2="238.1" y2="506.9" stroke="#dcdcdc" stroke-width="0.6"/>
<text x="103.6" y="370.36" font-size="6.35" text-anchor="end" font-weight="bold" textLength="23.5" lengthAdjust="spacingAndGlyphs">recIL-18</text>
<text x="103.6" y="382.3" font-size="6.35" text-anchor="end" font-weight="bold" textLength="64.5" lengthAdjust="spacingAndGlyphs">memIL-18-TLR4-CD40</text>
<text x="103.6" y="394.24" font-size="6.35" text-anchor="end" font-weight="bold" textLength="30.3" lengthAdjust="spacingAndGlyphs">memIL-18</text>
<text x="103.6" y="406.18" font-size="6.35" text-anchor="end" font-weight="bold" textLength="22.3" lengthAdjust="spacingAndGlyphs">irr.RNA</text>
<text x="103.6" y="418.12" font-size="6.35" text-anchor="end" font-weight="bold" textLength="23.5" lengthAdjust="spacingAndGlyphs">recIL-18</text>
<text x="103.6" y="430.07" font-size="6.35" text-anchor="end" font-weight="bold" textLength="64.5" lengthAdjust="spacingAndGlyphs">memIL-18-TLR4-CD40</text>
<text x="103.6" y="442.01" font-size="6.35" text-anchor="end" font-weight="bold" textLength="30.3" lengthAdjust="spacingAndGlyphs">memIL-18</text>
<text x="103.6" y="453.95" font-size="6.35" text-anchor="end" font-weight="bold" textLength="22.3" lengthAdjust="spacingAndGlyphs">irr.RNA</text>
<text x="103.6" y="465.89" font-size="6.35" text-anchor="end" font-weight="bold" textLength="23.5" lengthAdjust="spacingAndGlyphs">recIL-18</text>
<text x="103.6" y="477.83" font-size="6.35" text-anchor="end" font-weight="bold" textLength="64.5" lengthAdjust="spacingAndGlyphs">memIL-18-TLR4-CD40</text>
<text x="103.6" y="489.77" font-size="6.35" text-anchor="end" font-weight="bold" textLength="30.3" lengthAdjust="spacingAndGlyphs">memIL-18</text>
<text x="103.6" y="501.72" font-size="6.35" text-anchor="end" font-weight="bold" textLength="22.3" lengthAdjust="spacingAndGlyphs">irr.RNA</text>
<text x="30.98" y="385.98" font-size="6.6" text-anchor="middle" font-weight="bold" textLength="23.6" lengthAdjust="spacingAndGlyphs" transform="rotate(-90 30.98 385.98)">Donor 1</text>
<text x="30.98" y="433.75" font-size="6.6" text-anchor="middle" font-weight="bold" textLength="23.6" lengthAdjust="spacingAndGlyphs" transform="rotate(-90 30.98 433.75)">Donor 2</text>
<text x="30.98" y="481.52" font-size="6.6" text-anchor="middle" font-weight="bold" textLength="23.6" lengthAdjust="spacingAndGlyphs" transform="rotate(-90 30.98 481.52)">Donor 3</text>
<text x="12.48" y="433.4" font-size="6.6" text-anchor="middle" font-weight="bold" textLength="31" lengthAdjust="spacingAndGlyphs" transform="rotate(-90 12.48 433.4)">Treatment</text>
<rect x="110.4" y="363.17" width="12.5" height="4.9" fill="#fff" stroke="#7a7a7a" stroke-width="0.6"/>
<rect x="110.4" y="368.07" width="41.6" height="4.9" fill="#7f7f7f" stroke="#5a5a5a" stroke-width="0.5"/>
<rect x="110.4" y="375.12" width="9.8" height="4.9" fill="#fff" stroke="#7a7a7a" stroke-width="0.6"/>
<rect x="110.4" y="380.01" width="93.3" height="4.9" fill="#7f7f7f" stroke="#5a5a5a" stroke-width="0.5"/>
<rect x="110.4" y="387.06" width="10.1" height="4.9" fill="#fff" stroke="#7a7a7a" stroke-width="0.6"/>
<rect x="110.4" y="391.95" width="89.4" height="4.9" fill="#7f7f7f" stroke="#5a5a5a" stroke-width="0.5"/>
<rect x="110.4" y="399" width="7.2" height="4.9" fill="#fff" stroke="#7a7a7a" stroke-width="0.6"/>
<rect x="110.4" y="403.9" width="28.6" height="4.9" fill="#7f7f7f" stroke="#5a5a5a" stroke-width="0.5"/>
<rect x="110.4" y="410.94" width="10.1" height="4.9" fill="#fff" stroke="#7a7a7a" stroke-width="0.6"/>
<rect x="110.4" y="415.84" width="27" height="4.9" fill="#7f7f7f" stroke="#5a5a5a" stroke-width="0.5"/>
<rect x="110.4" y="422.88" width="11.1" height="4.9" fill="#fff" stroke="#7a7a7a" stroke-width="0.6"/>
<rect x="110.4" y="427.78" width="62.6" height="4.9" fill="#7f7f7f" stroke="#5a5a5a" stroke-width="0.5"/>
<rect x="110.4" y="434.82" width="11.1" height="4.9" fill="#fff" stroke="#7a7a7a" stroke-width="0.6"/>
<rect x="110.4" y="439.72" width="44.6" height="4.9" fill="#7f7f7f" stroke="#5a5a5a" stroke-width="0.5"/>
<rect x="110.4" y="446.77" width="7.2" height="4.9" fill="#fff" stroke="#7a7a7a" stroke-width="0.6"/>
<rect x="110.4" y="451.66" width="13.4" height="4.9" fill="#7f7f7f" stroke="#5a5a5a" stroke-width="0.5"/>
<rect x="110.4" y="458.71" width="8.6" height="4.9" fill="#fff" stroke="#7a7a7a" stroke-width="0.6"/>
<rect x="110.4" y="463.6" width="23.4" height="4.9" fill="#7f7f7f" stroke="#5a5a5a" stroke-width="0.5"/>
<rect x="110.4" y="470.65" width="8.6" height="4.9" fill="#fff" stroke="#7a7a7a" stroke-width="0.6"/>
<rect x="110.4" y="475.55" width="31.9" height="4.9" fill="#7f7f7f" stroke="#5a5a5a" stroke-width="0.5"/>
<rect x="110.4" y="482.59" width="12.1" height="4.9" fill="#fff" stroke="#7a7a7a" stroke-width="0.6"/>
<rect x="110.4" y="487.49" width="25.3" height="4.9" fill="#7f7f7f" stroke="#5a5a5a" stroke-width="0.5"/>
<rect x="110.4" y="494.53" width="5.3" height="4.9" fill="#fff" stroke="#7a7a7a" stroke-width="0.6"/>
<rect x="110.4" y="499.43" width="15.4" height="4.9" fill="#7f7f7f" stroke="#5a5a5a" stroke-width="0.5"/>
<line x1="120.2" y1="377.56" x2="122.1" y2="377.56" stroke="#666" stroke-width="0.5"/>
<line x1="122.1" y1="376.56" x2="122.1" y2="378.56" stroke="#666" stroke-width="0.5"/>
<line x1="117.6" y1="401.45" x2="119" y2="401.45" stroke="#666" stroke-width="0.5"/>
<line x1="119" y1="400.45" x2="119" y2="402.45" stroke="#666" stroke-width="0.5"/>
<line x1="139" y1="406.34" x2="141" y2="406.34" stroke="#666" stroke-width="0.5"/>
<line x1="141" y1="405.34" x2="141" y2="407.34" stroke="#666" stroke-width="0.5"/>
<line x1="120.5" y1="413.39" x2="122.9" y2="413.39" stroke="#666" stroke-width="0.5"/>
<line x1="122.9" y1="412.39" x2="122.9" y2="414.39" stroke="#666" stroke-width="0.5"/>
<line x1="155" y1="442.17" x2="158.4" y2="442.17" stroke="#666" stroke-width="0.5"/>
<line x1="158.4" y1="441.17" x2="158.4" y2="443.17" stroke="#666" stroke-width="0.5"/>
<line x1="133.8" y1="466.05" x2="139" y2="466.05" stroke="#666" stroke-width="0.5"/>
<line x1="139" y1="465.05" x2="139" y2="467.05" stroke="#666" stroke-width="0.5"/>
<line x1="122.5" y1="485.04" x2="124.4" y2="485.04" stroke="#666" stroke-width="0.5"/>
<line x1="124.4" y1="484.04" x2="124.4" y2="486.04" stroke="#666" stroke-width="0.5"/>
<line x1="115.7" y1="496.98" x2="122.5" y2="496.98" stroke="#666" stroke-width="0.5"/>
<line x1="122.5" y1="495.98" x2="122.5" y2="497.98" stroke="#666" stroke-width="0.5"/>
<line x1="125.8" y1="501.88" x2="127.9" y2="501.88" stroke="#666" stroke-width="0.5"/>
<line x1="127.9" y1="500.88" x2="127.9" y2="502.88" stroke="#666" stroke-width="0.5"/>
<text x="110.2" y="517.7" font-size="6.4" text-anchor="middle" font-weight="bold">0</text>
<text x="152.6" y="517.7" font-size="6.4" text-anchor="middle" font-weight="bold">200</text>
<text x="195.3" y="517.7" font-size="6.4" text-anchor="middle" font-weight="bold">400</text>
<text x="238.1" y="517.7" font-size="6.4" text-anchor="middle" font-weight="bold">600</text>
<text x="174" y="526.2" font-size="6.6" text-anchor="middle" class="r" textLength="34" lengthAdjust="spacingAndGlyphs">IL-4 (pg/ml)</text>
<rect x="196.9" y="364.4" width="3.4" height="3.4" fill="#fff" stroke="#555" stroke-width="0.6"/>
<rect x="196.9" y="374.3" width="3.4" height="3.4" fill="#7f7f7f" stroke="#555" stroke-width="0.6"/>
<text x="202.4" y="368.4" font-size="6.6" font-weight="bold" textLength="37.4" lengthAdjust="spacingAndGlyphs">with irr.RNA</text>
<text x="202.4" y="378.3" font-size="6.6" font-weight="bold" textLength="27" lengthAdjust="spacingAndGlyphs">with CAR</text>
<path d="M201.5 394.8H204.1V407.1H201.5" fill="none" stroke="#4a4a4a" stroke-width="0.8"/>
<circle cx="207.6" cy="399.4" r="0.75" fill="#222"/>
<circle cx="207.6" cy="402.5" r="0.75" fill="#222"/>
<path d="M210.2 382.6H212.8V407.1H210.2" fill="none" stroke="#4a4a4a" stroke-width="0.8"/>
<circle cx="216.1" cy="393.3" r="0.75" fill="#222"/>
<circle cx="216.1" cy="396.4" r="0.75" fill="#222"/>
<path d="M176.6 431.3H179.2V455.9H176.6" fill="none" stroke="#4a4a4a" stroke-width="0.8"/>
<circle cx="182.7" cy="440.5" r="0.75" fill="#222"/>
<circle cx="182.7" cy="443.6" r="0.75" fill="#222"/>
<circle cx="182.7" cy="446.7" r="0.75" fill="#222"/>
<path d="M145.5 477.3H148.1V502.2H145.5" fill="none" stroke="#4a4a4a" stroke-width="0.8"/>
<circle cx="151.6" cy="489.75" r="0.75" fill="#222"/>
<path d="M522.2 357V531" fill="none" stroke="#e4e4e4" stroke-width="0.8"/>
<rect x="268" y="361.13" width="13.2" height="14.19" fill="#fff"/>
<text x="269" y="374" font-size="16.5" font-weight="bold" fill="#000">H</text>
<line x1="287.6" y1="364.1" x2="376.8" y2="364.1" stroke="#dcdcdc" stroke-width="0.8"/>
<line x1="287.6" y1="411.77" x2="376.8" y2="411.77" stroke="#dcdcdc" stroke-width="0.8"/>
<line x1="287.6" y1="459.43" x2="376.8" y2="459.43" stroke="#dcdcdc" stroke-width="0.8"/>
<line x1="287.6" y1="507.1" x2="376.8" y2="507.1" stroke="#dcdcdc" stroke-width="0.8"/>
<line x1="376.8" y1="364.1" x2="376.8" y2="507.1" stroke="#cfcfcf" stroke-width="0.8"/>
<line x1="376.8" y1="507.1" x2="509.9" y2="507.1" stroke="#dcdcdc" stroke-width="0.8"/>
<line x1="376.8" y1="507.1" x2="376.8" y2="508.6" stroke="#dcdcdc" stroke-width="0.6"/>
<line x1="421.8" y1="507.1" x2="421.8" y2="508.6" stroke="#dcdcdc" stroke-width="0.6"/>
<line x1="465.8" y1="507.1" x2="465.8" y2="508.6" stroke="#dcdcdc" stroke-width="0.6"/>
<line x1="509.9" y1="507.1" x2="509.9" y2="508.6" stroke="#dcdcdc" stroke-width="0.6"/>
<text x="369.6" y="372.34" font-size="6.35" text-anchor="end" font-weight="bold" textLength="23.5" lengthAdjust="spacingAndGlyphs">recIL-18</text>
<text x="369.6" y="384.26" font-size="6.35" text-anchor="end" font-weight="bold" textLength="64.5" lengthAdjust="spacingAndGlyphs">memIL-18-TLR4-CD40</text>
<text x="369.6" y="396.18" font-size="6.35" text-anchor="end" font-weight="bold" textLength="30.3" lengthAdjust="spacingAndGlyphs">memIL-18</text>
<text x="369.6" y="408.09" font-size="6.35" text-anchor="end" font-weight="bold" textLength="22.3" lengthAdjust="spacingAndGlyphs">irr.RNA</text>
<text x="369.6" y="420.01" font-size="6.35" text-anchor="end" font-weight="bold" textLength="23.5" lengthAdjust="spacingAndGlyphs">recIL-18</text>
<text x="369.6" y="431.93" font-size="6.35" text-anchor="end" font-weight="bold" textLength="64.5" lengthAdjust="spacingAndGlyphs">memIL-18-TLR4-CD40</text>
<text x="369.6" y="443.84" font-size="6.35" text-anchor="end" font-weight="bold" textLength="30.3" lengthAdjust="spacingAndGlyphs">memIL-18</text>
<text x="369.6" y="455.76" font-size="6.35" text-anchor="end" font-weight="bold" textLength="22.3" lengthAdjust="spacingAndGlyphs">irr.RNA</text>
<text x="369.6" y="467.68" font-size="6.35" text-anchor="end" font-weight="bold" textLength="23.5" lengthAdjust="spacingAndGlyphs">recIL-18</text>
<text x="369.6" y="479.59" font-size="6.35" text-anchor="end" font-weight="bold" textLength="64.5" lengthAdjust="spacingAndGlyphs">memIL-18-TLR4-CD40</text>
<text x="369.6" y="491.51" font-size="6.35" text-anchor="end" font-weight="bold" textLength="30.3" lengthAdjust="spacingAndGlyphs">memIL-18</text>
<text x="369.6" y="503.43" font-size="6.35" text-anchor="end" font-weight="bold" textLength="22.3" lengthAdjust="spacingAndGlyphs">irr.RNA</text>
<text x="295.98" y="387.93" font-size="6.6" text-anchor="middle" font-weight="bold" textLength="23.6" lengthAdjust="spacingAndGlyphs" transform="rotate(-90 295.98 387.93)">Donor 1</text>
<text x="295.98" y="435.6" font-size="6.6" text-anchor="middle" font-weight="bold" textLength="23.6" lengthAdjust="spacingAndGlyphs" transform="rotate(-90 295.98 435.6)">Donor 2</text>
<text x="295.98" y="483.27" font-size="6.6" text-anchor="middle" font-weight="bold" textLength="23.6" lengthAdjust="spacingAndGlyphs" transform="rotate(-90 295.98 483.27)">Donor 3</text>
<text x="283.28" y="438" font-size="6.6" text-anchor="middle" font-weight="bold" textLength="31" lengthAdjust="spacingAndGlyphs" transform="rotate(-90 283.28 438)">Treatment</text>
<rect x="376.8" y="365.17" width="13.6" height="4.89" fill="#fff" stroke="#7a7a7a" stroke-width="0.6"/>
<rect x="376.8" y="370.06" width="34" height="4.89" fill="#7f7f7f" stroke="#5a5a5a" stroke-width="0.5"/>
<rect x="376.8" y="377.09" width="11.7" height="4.89" fill="#fff" stroke="#7a7a7a" stroke-width="0.6"/>
<rect x="376.8" y="381.98" width="109.4" height="4.89" fill="#7f7f7f" stroke="#5a5a5a" stroke-width="0.5"/>
<rect x="376.8" y="389.01" width="12.6" height="4.89" fill="#fff" stroke="#7a7a7a" stroke-width="0.6"/>
<rect x="376.8" y="393.89" width="116" height="4.89" fill="#7f7f7f" stroke="#5a5a5a" stroke-width="0.5"/>
<rect x="376.8" y="400.92" width="7.8" height="4.89" fill="#fff" stroke="#7a7a7a" stroke-width="0.6"/>
<rect x="376.8" y="405.81" width="27.8" height="4.89" fill="#7f7f7f" stroke="#5a5a5a" stroke-width="0.5"/>
<rect x="376.8" y="412.84" width="10.7" height="4.89" fill="#fff" stroke="#7a7a7a" stroke-width="0.6"/>
<rect x="376.8" y="417.73" width="21.4" height="4.89" fill="#7f7f7f" stroke="#5a5a5a" stroke-width="0.5"/>
<rect x="376.8" y="424.76" width="13.6" height="4.89" fill="#fff" stroke="#7a7a7a" stroke-width="0.6"/>
<rect x="376.8" y="429.64" width="118" height="4.89" fill="#7f7f7f" stroke="#5a5a5a" stroke-width="0.5"/>
<rect x="376.8" y="436.67" width="11.5" height="4.89" fill="#fff" stroke="#7a7a7a" stroke-width="0.6"/>
<rect x="376.8" y="441.56" width="72.4" height="4.89" fill="#7f7f7f" stroke="#5a5a5a" stroke-width="0.5"/>
<rect x="376.8" y="448.59" width="4.6" height="4.89" fill="#fff" stroke="#7a7a7a" stroke-width="0.6"/>
<rect x="376.8" y="453.48" width="9.8" height="4.89" fill="#7f7f7f" stroke="#5a5a5a" stroke-width="0.5"/>
<rect x="376.8" y="460.51" width="6.7" height="4.89" fill="#fff" stroke="#7a7a7a" stroke-width="0.6"/>
<rect x="376.8" y="465.39" width="16.4" height="4.89" fill="#7f7f7f" stroke="#5a5a5a" stroke-width="0.5"/>
<rect x="376.8" y="472.42" width="8.1" height="4.89" fill="#fff" stroke="#7a7a7a" stroke-width="0.6"/>
<rect x="376.8" y="477.31" width="110.9" height="4.89" fill="#7f7f7f" stroke="#5a5a5a" stroke-width="0.5"/>
<rect x="376.8" y="484.34" width="12.2" height="4.89" fill="#fff" stroke="#7a7a7a" stroke-width="0.6"/>
<rect x="376.8" y="489.23" width="54.8" height="4.89" fill="#7f7f7f" stroke="#5a5a5a" stroke-width="0.5"/>
<rect x="376.8" y="496.26" width="2.5" height="4.89" fill="#fff" stroke="#7a7a7a" stroke-width="0.6"/>
<rect x="376.8" y="501.14" width="10.8" height="4.89" fill="#7f7f7f" stroke="#5a5a5a" stroke-width="0.5"/>
<text x="376.8" y="519.3" font-size="6.4" text-anchor="middle" font-weight="bold">0</text>
<text x="421.8" y="519.3" font-size="6.4" text-anchor="middle" font-weight="bold">30000</text>
<text x="465.8" y="519.3" font-size="6.4" text-anchor="middle" font-weight="bold">60000</text>
<text x="509.9" y="519.3" font-size="6.4" text-anchor="middle" font-weight="bold">90000</text>
<text x="442.8" y="528.6" font-size="6.6" text-anchor="middle" class="r" textLength="60.5" lengthAdjust="spacingAndGlyphs">Granzyme B (pg/ml)</text>
<rect x="476.5" y="364.6" width="3.4" height="3.4" fill="#fff" stroke="#555" stroke-width="0.6"/>
<rect x="476.5" y="373.7" width="3.4" height="3.4" fill="#7f7f7f" stroke="#555" stroke-width="0.6"/>
<text x="482" y="368.6" font-size="6.6" font-weight="bold" textLength="37.4" lengthAdjust="spacingAndGlyphs">with irr.RNA</text>
<text x="482" y="377.7" font-size="6.6" font-weight="bold" textLength="27" lengthAdjust="spacingAndGlyphs">with CAR</text>
<path d="M495.2 397.4H497.8V408.4H495.2" fill="none" stroke="#4a4a4a" stroke-width="0.8"/>
<circle cx="499.8" cy="399.8" r="0.75" fill="#222"/>
<circle cx="499.8" cy="402.9" r="0.75" fill="#222"/>
<circle cx="499.8" cy="406" r="0.75" fill="#222"/>
<path d="M504 385.7H506.6V409H504" fill="none" stroke="#4a4a4a" stroke-width="0.8"/>
<circle cx="509.3" cy="394.25" r="0.75" fill="#222"/>
<circle cx="509.3" cy="397.35" r="0.75" fill="#222"/>
<circle cx="509.3" cy="400.45" r="0.75" fill="#222"/>
<path d="M450.9 444.5H453.5V455.6H450.9" fill="none" stroke="#4a4a4a" stroke-width="0.8"/>
<circle cx="456.6" cy="446.95" r="0.75" fill="#222"/>
<circle cx="456.6" cy="450.05" r="0.75" fill="#222"/>
<circle cx="456.6" cy="453.15" r="0.75" fill="#222"/>
<path d="M497.6 433.5H500.2V445.3H497.6" fill="none" stroke="#4a4a4a" stroke-width="0.8"/>
<circle cx="503.3" cy="437.85" r="0.75" fill="#222"/>
<circle cx="503.3" cy="440.95" r="0.75" fill="#222"/>
<path d="M509 433.5H511.6V455.6H509" fill="none" stroke="#4a4a4a" stroke-width="0.8"/>
<circle cx="514.5" cy="441.45" r="0.75" fill="#222"/>
<circle cx="514.5" cy="444.55" r="0.75" fill="#222"/>
<circle cx="514.5" cy="447.65" r="0.75" fill="#222"/>
<path d="M433.7 492.1H436.3V503.9H433.7" fill="none" stroke="#4a4a4a" stroke-width="0.8"/>
<circle cx="439.8" cy="496.45" r="0.75" fill="#222"/>
<circle cx="439.8" cy="499.55" r="0.75" fill="#222"/>
<path d="M489.7 480.7H492.3V492.5H489.7" fill="none" stroke="#4a4a4a" stroke-width="0.8"/>
<circle cx="495.4" cy="485.05" r="0.75" fill="#222"/>
<circle cx="495.4" cy="488.15" r="0.75" fill="#222"/>
<path d="M500.5 480.7H503.1V503.9H500.5" fill="none" stroke="#4a4a4a" stroke-width="0.8"/>
<circle cx="506.2" cy="489.2" r="0.75" fill="#222"/>
<circle cx="506.2" cy="492.3" r="0.75" fill="#222"/>
<circle cx="506.2" cy="495.4" r="0.75" fill="#222"/>
<path d="M287.2 553.6H523.4M523.4 725.2H272.3" fill="none" stroke="#e4e4e4" stroke-width="0.8"/>
<rect x="274.6" y="551.43" width="13.2" height="14.19" fill="#fff"/>
<text x="275.6" y="564.3" font-size="16.5" font-weight="bold" fill="#000">K</text>
<line x1="290" y1="566.8" x2="378.7" y2="566.8" stroke="#dcdcdc" stroke-width="0.8"/>
<line x1="290" y1="611.6" x2="378.7" y2="611.6" stroke="#dcdcdc" stroke-width="0.8"/>
<line x1="290" y1="656.4" x2="378.7" y2="656.4" stroke="#dcdcdc" stroke-width="0.8"/>
<line x1="290" y1="701.2" x2="378.7" y2="701.2" stroke="#dcdcdc" stroke-width="0.8"/>
<line x1="378.7" y1="566.8" x2="378.7" y2="701.2" stroke="#cfcfcf" stroke-width="0.8"/>
<line x1="378.7" y1="701.2" x2="517" y2="701.2" stroke="#dcdcdc" stroke-width="0.8"/>
<line x1="378.5" y1="701.2" x2="378.5" y2="702.7" stroke="#dcdcdc" stroke-width="0.6"/>
<line x1="392.33" y1="701.2" x2="392.33" y2="702.7" stroke="#dcdcdc" stroke-width="0.6"/>
<line x1="406.16" y1="701.2" x2="406.16" y2="702.7" stroke="#dcdcdc" stroke-width="0.6"/>
<line x1="419.99" y1="701.2" x2="419.99" y2="702.7" stroke="#dcdcdc" stroke-width="0.6"/>
<line x1="433.82" y1="701.2" x2="433.82" y2="702.7" stroke="#dcdcdc" stroke-width="0.6"/>
<line x1="447.65" y1="701.2" x2="447.65" y2="702.7" stroke="#dcdcdc" stroke-width="0.6"/>
<line x1="461.48" y1="701.2" x2="461.48" y2="702.7" stroke="#dcdcdc" stroke-width="0.6"/>
<line x1="475.31" y1="701.2" x2="475.31" y2="702.7" stroke="#dcdcdc" stroke-width="0.6"/>
<line x1="489.14" y1="701.2" x2="489.14" y2="702.7" stroke="#dcdcdc" stroke-width="0.6"/>
<line x1="502.97" y1="701.2" x2="502.97" y2="702.7" stroke="#dcdcdc" stroke-width="0.6"/>
<line x1="516.8" y1="701.2" x2="516.8" y2="702.7" stroke="#dcdcdc" stroke-width="0.6"/>
<text x="371.9" y="574.69" font-size="6.35" text-anchor="end" font-weight="bold" textLength="23.5" lengthAdjust="spacingAndGlyphs">recIL-18</text>
<text x="371.9" y="585.89" font-size="6.35" text-anchor="end" font-weight="bold" textLength="64.5" lengthAdjust="spacingAndGlyphs">memIL-18-TLR4-CD40</text>
<text x="371.9" y="597.09" font-size="6.35" text-anchor="end" font-weight="bold" textLength="30.3" lengthAdjust="spacingAndGlyphs">memIL-18</text>
<text x="371.9" y="608.29" font-size="6.35" text-anchor="end" font-weight="bold" textLength="22.3" lengthAdjust="spacingAndGlyphs">irr.RNA</text>
<text x="371.9" y="619.49" font-size="6.35" text-anchor="end" font-weight="bold" textLength="23.5" lengthAdjust="spacingAndGlyphs">recIL-18</text>
<text x="371.9" y="630.69" font-size="6.35" text-anchor="end" font-weight="bold" textLength="64.5" lengthAdjust="spacingAndGlyphs">memIL-18-TLR4-CD40</text>
<text x="371.9" y="641.89" font-size="6.35" text-anchor="end" font-weight="bold" textLength="30.3" lengthAdjust="spacingAndGlyphs">memIL-18</text>
<text x="371.9" y="653.09" font-size="6.35" text-anchor="end" font-weight="bold" textLength="22.3" lengthAdjust="spacingAndGlyphs">irr.RNA</text>
<text x="371.9" y="664.29" font-size="6.35" text-anchor="end" font-weight="bold" textLength="23.5" lengthAdjust="spacingAndGlyphs">recIL-18</text>
<text x="371.9" y="675.49" font-size="6.35" text-anchor="end" font-weight="bold" textLength="64.5" lengthAdjust="spacingAndGlyphs">memIL-18-TLR4-CD40</text>
<text x="371.9" y="686.69" font-size="6.35" text-anchor="end" font-weight="bold" textLength="30.3" lengthAdjust="spacingAndGlyphs">memIL-18</text>
<text x="371.9" y="697.89" font-size="6.35" text-anchor="end" font-weight="bold" textLength="22.3" lengthAdjust="spacingAndGlyphs">irr.RNA</text>
<text x="298.38" y="589.2" font-size="6.6" text-anchor="middle" font-weight="bold" textLength="23.6" lengthAdjust="spacingAndGlyphs" transform="rotate(-90 298.38 589.2)">Donor 1</text>
<text x="298.38" y="634" font-size="6.6" text-anchor="middle" font-weight="bold" textLength="23.6" lengthAdjust="spacingAndGlyphs" transform="rotate(-90 298.38 634)">Donor 2</text>
<text x="298.38" y="678.8" font-size="6.6" text-anchor="middle" font-weight="bold" textLength="23.6" lengthAdjust="spacingAndGlyphs" transform="rotate(-90 298.38 678.8)">Donor 3</text>
<text x="283.68" y="638" font-size="6.6" text-anchor="middle" font-weight="bold" textLength="31" lengthAdjust="spacingAndGlyphs" transform="rotate(-90 283.68 638)">Treatment</text>
<rect x="378.7" y="567.81" width="36.7" height="4.59" fill="#fff" stroke="#7a7a7a" stroke-width="0.6"/>
<rect x="378.7" y="572.4" width="48.1" height="4.59" fill="#7f7f7f" stroke="#5a5a5a" stroke-width="0.5"/>
<rect x="378.7" y="579.01" width="34" height="4.59" fill="#fff" stroke="#7a7a7a" stroke-width="0.6"/>
<rect x="378.7" y="583.6" width="90.2" height="4.59" fill="#7f7f7f" stroke="#5a5a5a" stroke-width="0.5"/>
<rect x="378.7" y="590.21" width="34.6" height="4.59" fill="#fff" stroke="#7a7a7a" stroke-width="0.6"/>
<rect x="378.7" y="594.8" width="74.6" height="4.59" fill="#7f7f7f" stroke="#5a5a5a" stroke-width="0.5"/>
<rect x="378.7" y="601.41" width="29.9" height="4.59" fill="#fff" stroke="#7a7a7a" stroke-width="0.6"/>
<rect x="378.7" y="606" width="40.4" height="4.59" fill="#7f7f7f" stroke="#5a5a5a" stroke-width="0.5"/>
<rect x="378.7" y="612.61" width="77.8" height="4.59" fill="#fff" stroke="#7a7a7a" stroke-width="0.6"/>
<rect x="378.7" y="617.2" width="113" height="4.59" fill="#7f7f7f" stroke="#5a5a5a" stroke-width="0.5"/>
<rect x="378.7" y="623.81" width="61.9" height="4.59" fill="#fff" stroke="#7a7a7a" stroke-width="0.6"/>
<rect x="378.7" y="628.4" width="121.2" height="4.59" fill="#7f7f7f" stroke="#5a5a5a" stroke-width="0.5"/>
<rect x="378.7" y="635.01" width="54.8" height="4.59" fill="#fff" stroke="#7a7a7a" stroke-width="0.6"/>
<rect x="378.7" y="639.6" width="116.3" height="4.59" fill="#7f7f7f" stroke="#5a5a5a" stroke-width="0.5"/>
<rect x="378.7" y="646.21" width="49.8" height="4.59" fill="#fff" stroke="#7a7a7a" stroke-width="0.6"/>
<rect x="378.7" y="650.8" width="79.5" height="4.59" fill="#7f7f7f" stroke="#5a5a5a" stroke-width="0.5"/>
<rect x="378.7" y="657.41" width="49.8" height="4.59" fill="#fff" stroke="#7a7a7a" stroke-width="0.6"/>
<rect x="378.7" y="662" width="96.9" height="4.59" fill="#7f7f7f" stroke="#5a5a5a" stroke-width="0.5"/>
<rect x="378.7" y="668.61" width="49.8" height="4.59" fill="#fff" stroke="#7a7a7a" stroke-width="0.6"/>
<rect x="378.7" y="673.2" width="107.5" height="4.59" fill="#7f7f7f" stroke="#5a5a5a" stroke-width="0.5"/>
<rect x="378.7" y="679.81" width="54" height="4.59" fill="#fff" stroke="#7a7a7a" stroke-width="0.6"/>
<rect x="378.7" y="684.4" width="95.8" height="4.59" fill="#7f7f7f" stroke="#5a5a5a" stroke-width="0.5"/>
<rect x="378.7" y="691.01" width="43" height="4.59" fill="#fff" stroke="#7a7a7a" stroke-width="0.6"/>
<rect x="378.7" y="695.6" width="65" height="4.59" fill="#7f7f7f" stroke="#5a5a5a" stroke-width="0.5"/>
<line x1="415.4" y1="570.1" x2="418.5" y2="570.1" stroke="#666" stroke-width="0.5"/>
<line x1="418.5" y1="569.1" x2="418.5" y2="571.1" stroke="#666" stroke-width="0.5"/>
<line x1="468.9" y1="585.9" x2="471.4" y2="585.9" stroke="#666" stroke-width="0.5"/>
<line x1="471.4" y1="584.9" x2="471.4" y2="586.9" stroke="#666" stroke-width="0.5"/>
<line x1="413.3" y1="592.5" x2="418.5" y2="592.5" stroke="#666" stroke-width="0.5"/>
<line x1="418.5" y1="591.5" x2="418.5" y2="593.5" stroke="#666" stroke-width="0.5"/>
<line x1="453.3" y1="597.1" x2="456.9" y2="597.1" stroke="#666" stroke-width="0.5"/>
<line x1="456.9" y1="596.1" x2="456.9" y2="598.1" stroke="#666" stroke-width="0.5"/>
<line x1="408.6" y1="603.7" x2="414" y2="603.7" stroke="#666" stroke-width="0.5"/>
<line x1="414" y1="602.7" x2="414" y2="604.7" stroke="#666" stroke-width="0.5"/>
<line x1="419.1" y1="608.3" x2="422.3" y2="608.3" stroke="#666" stroke-width="0.5"/>
<line x1="422.3" y1="607.3" x2="422.3" y2="609.3" stroke="#666" stroke-width="0.5"/>
<line x1="456.5" y1="614.9" x2="458.9" y2="614.9" stroke="#666" stroke-width="0.5"/>
<line x1="458.9" y1="613.9" x2="458.9" y2="615.9" stroke="#666" stroke-width="0.5"/>
<line x1="491.7" y1="619.5" x2="497.3" y2="619.5" stroke="#666" stroke-width="0.5"/>
<line x1="497.3" y1="618.5" x2="497.3" y2="620.5" stroke="#666" stroke-width="0.5"/>
<line x1="499.9" y1="630.7" x2="507.8" y2="630.7" stroke="#666" stroke-width="0.5"/>
<line x1="507.8" y1="629.7" x2="507.8" y2="631.7" stroke="#666" stroke-width="0.5"/>
<line x1="495" y1="641.9" x2="501.6" y2="641.9" stroke="#666" stroke-width="0.5"/>
<line x1="501.6" y1="640.9" x2="501.6" y2="642.9" stroke="#666" stroke-width="0.5"/>
<line x1="428.5" y1="648.5" x2="431.8" y2="648.5" stroke="#666" stroke-width="0.5"/>
<line x1="431.8" y1="647.5" x2="431.8" y2="649.5" stroke="#666" stroke-width="0.5"/>
<line x1="458.2" y1="653.1" x2="463.5" y2="653.1" stroke="#666" stroke-width="0.5"/>
<line x1="463.5" y1="652.1" x2="463.5" y2="654.1" stroke="#666" stroke-width="0.5"/>
<line x1="428.5" y1="659.7" x2="433.4" y2="659.7" stroke="#666" stroke-width="0.5"/>
<line x1="433.4" y1="658.7" x2="433.4" y2="660.7" stroke="#666" stroke-width="0.5"/>
<line x1="475.6" y1="664.3" x2="485.5" y2="664.3" stroke="#666" stroke-width="0.5"/>
<line x1="485.5" y1="663.3" x2="485.5" y2="665.3" stroke="#666" stroke-width="0.5"/>
<line x1="428.5" y1="670.9" x2="432.7" y2="670.9" stroke="#666" stroke-width="0.5"/>
<line x1="432.7" y1="669.9" x2="432.7" y2="671.9" stroke="#666" stroke-width="0.5"/>
<line x1="432.7" y1="682.1" x2="436.7" y2="682.1" stroke="#666" stroke-width="0.5"/>
<line x1="436.7" y1="681.1" x2="436.7" y2="683.1" stroke="#666" stroke-width="0.5"/>
<line x1="474.5" y1="686.7" x2="482.5" y2="686.7" stroke="#666" stroke-width="0.5"/>
<line x1="482.5" y1="685.7" x2="482.5" y2="687.7" stroke="#666" stroke-width="0.5"/>
<line x1="421.7" y1="693.3" x2="425.2" y2="693.3" stroke="#666" stroke-width="0.5"/>
<line x1="425.2" y1="692.3" x2="425.2" y2="694.3" stroke="#666" stroke-width="0.5"/>
<line x1="443.7" y1="697.9" x2="451.6" y2="697.9" stroke="#666" stroke-width="0.5"/>
<line x1="451.6" y1="696.9" x2="451.6" y2="698.9" stroke="#666" stroke-width="0.5"/>
<text x="378.5" y="713.8" font-size="6.4" text-anchor="middle" font-weight="bold">0</text>
<text x="392.33" y="713.8" font-size="6.4" text-anchor="middle" font-weight="bold">5</text>
<text x="406.16" y="713.8" font-size="6.4" text-anchor="middle" font-weight="bold">10</text>
<text x="419.99" y="713.8" font-size="6.4" text-anchor="middle" font-weight="bold">15</text>
<text x="433.82" y="713.8" font-size="6.4" text-anchor="middle" font-weight="bold">20</text>
<text x="447.65" y="713.8" font-size="6.4" text-anchor="middle" font-weight="bold">25</text>
<text x="461.48" y="713.8" font-size="6.4" text-anchor="middle" font-weight="bold">30</text>
<text x="475.31" y="713.8" font-size="6.4" text-anchor="middle" font-weight="bold">35</text>
<text x="489.14" y="713.8" font-size="6.4" text-anchor="middle" font-weight="bold">40</text>
<text x="502.97" y="713.8" font-size="6.4" text-anchor="middle" font-weight="bold">45</text>
<text x="516.8" y="713.8" font-size="6.4" text-anchor="middle" font-weight="bold">50</text>
<text x="448.7" y="722.4" font-size="6.6" text-anchor="middle" class="r" textLength="60.3" lengthAdjust="spacingAndGlyphs">Active caspase 3 (%)</text>
<rect x="470.8" y="559.5" width="3.4" height="3.4" fill="#fff" stroke="#555" stroke-width="0.6"/>
<rect x="470.8" y="569.2" width="3.4" height="3.4" fill="#7f7f7f" stroke="#555" stroke-width="0.6"/>
<text x="476.3" y="563.5" font-size="6.6" font-weight="bold" textLength="37.4" lengthAdjust="spacingAndGlyphs">with irr.RNA</text>
<text x="476.3" y="573.2" font-size="6.6" font-weight="bold" textLength="27" lengthAdjust="spacingAndGlyphs">with CAR</text>
<path d="M457.4 595.8H460V607.6H457.4" fill="none" stroke="#4a4a4a" stroke-width="0.8"/>
<circle cx="463.7" cy="598.6" r="0.75" fill="#222"/>
<circle cx="463.7" cy="601.7" r="0.75" fill="#222"/>
<circle cx="463.7" cy="604.8" r="0.75" fill="#222"/>
<path d="M472.9 584.4H475.5V607.6H472.9" fill="none" stroke="#4a4a4a" stroke-width="0.8"/>
<circle cx="479" cy="592.9" r="0.75" fill="#222"/>
<circle cx="479" cy="596" r="0.75" fill="#222"/>
<circle cx="479" cy="599.1" r="0.75" fill="#222"/>
<path d="M500.8 641.3H503.4V653.4H500.8" fill="none" stroke="#4a4a4a" stroke-width="0.8"/>
<circle cx="507.1" cy="645.8" r="0.75" fill="#222"/>
<circle cx="507.1" cy="648.9" r="0.75" fill="#222"/>
<path d="M510.7 630.3H513.3V653.4H510.7" fill="none" stroke="#4a4a4a" stroke-width="0.8"/>
<circle cx="517" cy="638.75" r="0.75" fill="#222"/>
<circle cx="517" cy="641.85" r="0.75" fill="#222"/>
<circle cx="517" cy="644.95" r="0.75" fill="#222"/>
<path d="M519.9 619.2H522.5V653.4H519.9" fill="none" stroke="#4a4a4a" stroke-width="0.8"/>
<circle cx="526.5" cy="633.2" r="0.75" fill="#222"/>
<circle cx="526.5" cy="636.3" r="0.75" fill="#222"/>
<circle cx="526.5" cy="639.4" r="0.75" fill="#222"/>
<path d="M484.7 686H487.3V697.6H484.7" fill="none" stroke="#4a4a4a" stroke-width="0.8"/>
<circle cx="490.6" cy="691.8" r="0.75" fill="#222"/>
<path d="M494.6 674.5H497.2V697.6H494.6" fill="none" stroke="#4a4a4a" stroke-width="0.8"/>
<circle cx="500.5" cy="684.5" r="0.75" fill="#222"/>
<circle cx="500.5" cy="687.6" r="0.75" fill="#222"/>
<path d="M504.5 663.5H507.1V697.6H504.5" fill="none" stroke="#4a4a4a" stroke-width="0.8"/>
<circle cx="510.4" cy="680.55" r="0.75" fill="#222"/>
<rect x="109.5" y="3.93" width="13.2" height="14.19" fill="#fff"/>
<text x="110.5" y="16.8" font-size="16.5" font-weight="bold" fill="#000">B</text>
<line x1="116.5" y1="15" x2="116.5" y2="137" stroke="#ececec" stroke-width="0.8"/>
<line x1="232" y1="8.5" x2="232" y2="115.5" stroke="#d0d0d0" stroke-width="0.8"/>
<line x1="232" y1="115.5" x2="358" y2="115.5" stroke="#dcdcdc" stroke-width="0.8"/>
<line x1="232" y1="115.5" x2="232" y2="117" stroke="#dcdcdc" stroke-width="0.6"/>
<line x1="263.32" y1="115.5" x2="263.32" y2="117" stroke="#dcdcdc" stroke-width="0.6"/>
<line x1="294.65" y1="115.5" x2="294.65" y2="117" stroke="#dcdcdc" stroke-width="0.6"/>
<line x1="325.98" y1="115.5" x2="325.98" y2="117" stroke="#dcdcdc" stroke-width="0.6"/>
<line x1="357.3" y1="115.5" x2="357.3" y2="117" stroke="#dcdcdc" stroke-width="0.6"/>
<rect x="232" y="10" width="24.7" height="3.25" fill="#ffffff" stroke="#6a6a6a" stroke-width="0.55"/>
<rect x="232" y="13.25" width="41.8" height="3.25" fill="#bfbfbf" stroke="#8a8a8a" stroke-width="0.55"/>
<rect x="232" y="16.5" width="28.8" height="3.25" fill="#7f7f7f" stroke="#5a5a5a" stroke-width="0.55"/>
<rect x="232" y="22" width="43.7" height="3.25" fill="#ffffff" stroke="#6a6a6a" stroke-width="0.55"/>
<rect x="232" y="25.25" width="14.7" height="3.25" fill="#bfbfbf" stroke="#8a8a8a" stroke-width="0.55"/>
<rect x="232" y="28.5" width="46" height="3.25" fill="#7f7f7f" stroke="#5a5a5a" stroke-width="0.55"/>
<rect x="232" y="34.1" width="38.5" height="3.25" fill="#ffffff" stroke="#6a6a6a" stroke-width="0.55"/>
<rect x="232" y="37.35" width="18.8" height="3.25" fill="#bfbfbf" stroke="#8a8a8a" stroke-width="0.55"/>
<rect x="232" y="40.6" width="35.9" height="3.25" fill="#7f7f7f" stroke="#5a5a5a" stroke-width="0.55"/>
<rect x="232" y="45.6" width="13.6" height="3.25" fill="#ffffff" stroke="#6a6a6a" stroke-width="0.55"/>
<rect x="232" y="48.85" width="6.7" height="3.25" fill="#bfbfbf" stroke="#8a8a8a" stroke-width="0.55"/>
<rect x="232" y="52.1" width="11.8" height="3.25" fill="#7f7f7f" stroke="#5a5a5a" stroke-width="0.55"/>
<rect x="232" y="69.7" width="89.6" height="3.25" fill="#ffffff" stroke="#6a6a6a" stroke-width="0.55"/>
<rect x="232" y="72.95" width="84.6" height="3.25" fill="#bfbfbf" stroke="#8a8a8a" stroke-width="0.55"/>
<rect x="232" y="76.2" width="108" height="3.25" fill="#7f7f7f" stroke="#5a5a5a" stroke-width="0.55"/>
<rect x="232" y="81.4" width="80" height="3.25" fill="#ffffff" stroke="#6a6a6a" stroke-width="0.55"/>
<rect x="232" y="84.65" width="66.8" height="3.25" fill="#bfbfbf" stroke="#8a8a8a" stroke-width="0.55"/>
<rect x="232" y="87.9" width="102" height="3.25" fill="#7f7f7f" stroke="#5a5a5a" stroke-width="0.55"/>
<rect x="232" y="93.5" width="82.6" height="3.25" fill="#ffffff" stroke="#6a6a6a" stroke-width="0.55"/>
<rect x="232" y="96.75" width="70.6" height="3.25" fill="#bfbfbf" stroke="#8a8a8a" stroke-width="0.55"/>
<rect x="232" y="100" width="94" height="3.25" fill="#7f7f7f" stroke="#5a5a5a" stroke-width="0.55"/>
<rect x="232" y="105.2" width="27.9" height="3.25" fill="#ffffff" stroke="#6a6a6a" stroke-width="0.55"/>
<rect x="232" y="108.45" width="18.9" height="3.25" fill="#bfbfbf" stroke="#8a8a8a" stroke-width="0.55"/>
<rect x="232" y="111.7" width="33.3" height="3.25" fill="#7f7f7f" stroke="#5a5a5a" stroke-width="0.55"/>
<text x="224.9" y="16.85" font-size="6.5" text-anchor="end" font-weight="bold" textLength="23.9" lengthAdjust="spacingAndGlyphs">recIL-18</text>
<text x="224.9" y="28.85" font-size="6.5" text-anchor="end" font-weight="bold" textLength="66.4" lengthAdjust="spacingAndGlyphs">memIL-18-TLR4-CD40</text>
<text x="224.9" y="40.85" font-size="6.5" text-anchor="end" font-weight="bold" textLength="31" lengthAdjust="spacingAndGlyphs">memIL-18</text>
<text x="224.9" y="52.55" font-size="6.5" text-anchor="end" font-weight="bold" textLength="22.6" lengthAdjust="spacingAndGlyphs">irr.RNA</text>
<text x="224.9" y="76.95" font-size="6.5" text-anchor="end" font-weight="bold" textLength="23.9" lengthAdjust="spacingAndGlyphs">recIL-18</text>
<text x="224.9" y="88.45" font-size="6.5" text-anchor="end" font-weight="bold" textLength="66.4" lengthAdjust="spacingAndGlyphs">memIL-18-TLR4-CD40</text>
<text x="224.9" y="100.55" font-size="6.5" text-anchor="end" font-weight="bold" textLength="31" lengthAdjust="spacingAndGlyphs">memIL-18</text>
<text x="224.9" y="112.35" font-size="6.5" text-anchor="end" font-weight="bold" textLength="22.6" lengthAdjust="spacingAndGlyphs">irr.RNA</text>
<path d="M156.8 10.4H154.3V55.2H156.8" fill="none" stroke="#222" stroke-width="0.9"/>
<path d="M156.8 70.4H154.3V116H156.8" fill="none" stroke="#222" stroke-width="0.9"/>
<text x="150.8" y="35.35" font-size="6.6" text-anchor="end" font-weight="bold" textLength="22.2" lengthAdjust="spacingAndGlyphs">irr.RNA</text>
<text x="150.1" y="94.35" font-size="6.6" text-anchor="end" font-weight="bold" textLength="12.3" lengthAdjust="spacingAndGlyphs">CAR</text>
<text x="125.1" y="61.8" font-size="6.6" text-anchor="middle" font-weight="bold" textLength="31.8" lengthAdjust="spacingAndGlyphs" transform="rotate(-90 125.1 61.8)">Treatment</text>
<text x="232.1" y="127.8" font-size="6.5" text-anchor="middle" font-weight="bold">0</text>
<text x="263.5" y="127.8" font-size="6.5" text-anchor="middle" font-weight="bold">20</text>
<text x="295.2" y="127.8" font-size="6.5" text-anchor="middle" font-weight="bold">40</text>
<text x="326.8" y="127.8" font-size="6.5" text-anchor="middle" font-weight="bold">60</text>
<text x="357.3" y="127.8" font-size="6.5" text-anchor="middle" font-weight="bold">80</text>
<text x="295.6" y="135.7" font-size="6.6" text-anchor="middle" class="r" textLength="37.7" lengthAdjust="spacingAndGlyphs">% Expression</text>
<rect x="332.7" y="7" width="3.4" height="3.4" fill="#fff" stroke="#555" stroke-width="0.6"/>
<text x="337.8" y="11" font-size="6.6" font-weight="bold" textLength="16.5" lengthAdjust="spacingAndGlyphs">T-bet</text>
<rect x="332.7" y="16.2" width="3.4" height="3.4" fill="#bfbfbf" stroke="#555" stroke-width="0.6"/>
<text x="337.8" y="20.2" font-size="6.6" font-weight="bold" textLength="18.5" lengthAdjust="spacingAndGlyphs">4-1BB</text>
<rect x="332.7" y="24.9" width="3.4" height="3.4" fill="#7f7f7f" stroke="#555" stroke-width="0.6"/>
<text x="337.8" y="28.9" font-size="6.6" font-weight="bold" textLength="16.5" lengthAdjust="spacingAndGlyphs">CD25</text>
<rect x="-0.8" y="3.15" width="14" height="15.05" fill="#fff"/>
<text x="0.2" y="16.8" font-size="17.5" font-weight="bold" fill="#000">A</text>
<text x="54.75" y="14" font-size="7.8" text-anchor="middle" font-weight="bold" fill="#000" textLength="36.1" lengthAdjust="spacingAndGlyphs">CD8 T cells</text>
<text x="54" y="78" font-size="7.8" text-anchor="middle" font-weight="bold" fill="#000" textLength="12.1" lengthAdjust="spacingAndGlyphs">579</text>
<rect x="28.1" y="18.4" width="52.4" height="41.9" fill="none" stroke="#7a7a7a" stroke-width="0.7"/>
<text x="26.6" y="19.5" font-size="3.2" text-anchor="end" fill="#555" class="t">70</text>
<text x="26.6" y="30.6" font-size="3.2" text-anchor="end" fill="#555" class="t">53</text>
<text x="26.6" y="41" font-size="3.2" text-anchor="end" fill="#555" class="t">35</text>
<text x="26.6" y="51.9" font-size="3.2" text-anchor="end" fill="#555" class="t">18</text>
<text x="26.6" y="61.4" font-size="3.2" text-anchor="end" fill="#555" class="t">0</text>
<text x="29.5" y="67.5" font-size="3.4" text-anchor="middle" fill="#444" class="t">10<tspan font-size="2.11" dy="-1.53">0</tspan></text>
<text x="42" y="67.5" font-size="3.4" text-anchor="middle" fill="#444" class="t">10<tspan font-size="2.11" dy="-1.53">1</tspan></text>
<text x="55.3" y="67.5" font-size="3.4" text-anchor="middle" fill="#444" class="t">10<tspan font-size="2.11" dy="-1.53">2</tspan></text>
<text x="68" y="67.5" font-size="3.4" text-anchor="middle" fill="#444" class="t">10<tspan font-size="2.11" dy="-1.53">3</tspan></text>
<text x="80.5" y="67.5" font-size="3.4" text-anchor="middle" fill="#444" class="t">10<tspan font-size="2.11" dy="-1.53">4</tspan></text>
<path d="M28.3 51.99 L28.62 50.92 L28.95 49.8 L29.28 48.64 L29.6 47.43 L29.93 46.21 L30.25 44.98 L30.57 43.77 L30.9 42.59 L31.23 41.46 L31.55 40.41 L31.88 39.45 L32.2 38.61 L32.52 37.9 L32.85 37.33 L33.17 36.92 L33.5 36.67 L33.83 36.6 L34.15 36.77 L34.48 37.23 L34.8 37.97 L35.12 38.95 L35.45 40.14 L35.77 41.51 L36.1 43 L36.42 44.57 L36.75 46.17 L37.08 47.77 L37.4 49.33 L37.73 50.82 L38.05 52.2 L38.38 53.47 L38.7 54.61 L39.02 55.62 L39.35 56.5 L39.67 57.26 L40 57.89 L40.33 58.41 L40.65 58.84 L40.98 59.19 L41.3 59.46 L41.62 59.68 L41.95 59.84 L42.27 59.97 L42.6 60.06 L42.92 60.13 L43.25 60.18 L43.58 60.22 L43.9 60.24 L44.23 60.26 L44.55 60.28 L44.88 60.28 L45.2 60.29 L45.53 60.29 L45.85 60.3 L46.17 60.3 L46.5 60.3 L46.83 60.3 L47.15 60.3 L47.48 60.3 L47.8 60.3 L48.12 60.3 L48.45 60.3 L48.78 60.3 L49.1 60.3 L49.42 60.3 L49.75 60.3 L50.08 60.3 L50.4 60.3 L50.73 60.3 L51.05 60.3 L51.38 60.3 L51.7 60.3 L52.03 60.3 L52.35 60.3 L52.67 60.3 L53 60.3 L53.33 60.3 L53.65 60.3 L53.98 60.3 L54.3 60.3 L54.62 60.3 L54.95 60.3 L55.28 60.3 L55.6 60.3 L55.92 60.3 L56.25 60.3 L56.58 60.3 L56.9 60.3 L57.23 60.3 L57.55 60.3 L57.88 60.3 L58.2 60.3 L58.53 60.3 L58.85 60.3 L59.17 60.3 L59.5 60.3 L59.83 60.3 L60.15 60.3 L60.47 60.3 L60.8 60.3 L61.12 60.3 L61.45 60.3 L61.78 60.3 L62.1 60.3 L62.42 60.3 L62.75 60.3 L63.08 60.3 L63.4 60.3 L63.72 60.3 L64.05 60.3 L64.38 60.3 L64.7 60.3 L65.03 60.3 L65.35 60.3 L65.67 60.3 L66 60.3 L66.33 60.3 L66.65 60.3 L66.97 60.3 L67.3 60.3 L67.62 60.3 L67.95 60.3 L68.28 60.3 L68.6 60.3 L68.92 60.3 L69.25 60.3 L69.58 60.3 L69.9 60.3 L70.22 60.3 L70.55 60.3 L70.88 60.3 L71.2 60.3 L71.53 60.3 L71.85 60.3 L72.17 60.3 L72.5 60.3 L72.83 60.3 L73.15 60.3 L73.47 60.3 L73.8 60.3 L74.12 60.3 L74.45 60.3 L74.78 60.3 L75.1 60.3 L75.42 60.3 L75.75 60.3 L76.08 60.3 L76.4 60.3 L76.72 60.3 L77.05 60.3 L77.38 60.3 L77.7 60.3 L78.03 60.3 L78.35 60.3 L78.67 60.3 L79 60.3 L79.33 60.3 L79.65 60.3 L79.97 60.3 L80.3 60.3" fill="none" stroke="#8c8c8c" stroke-width="1.5"/>
<path d="M28.3 30.44 L28.56 38.9 L28.82 45.72 L29.08 48.04 L29.34 47.73 L29.6 46.64 L29.86 45.39 L30.12 44.13 L30.38 42.87 L30.64 41.64 L30.9 40.45 L31.16 39.33 L31.42 38.28 L31.68 37.34 L31.94 36.52 L32.2 35.82 L32.46 35.28 L32.72 34.89 L32.98 34.66 L33.24 34.6 L33.5 34.74 L33.76 35.07 L34.02 35.61 L34.28 36.32 L34.54 37.2 L34.8 38.23 L35.06 39.38 L35.32 40.63 L35.58 41.95 L35.84 43.32 L36.1 44.71 L36.36 46.11 L36.62 47.48 L36.88 48.81 L37.14 50.09 L37.4 51.3 L37.66 52.42 L37.92 53.47 L38.18 54.42 L38.44 55.28 L38.7 56.05 L38.96 56.72 L39.22 57.32 L39.48 57.84 L39.74 58.28 L40 58.66 L40.26 58.97 L40.52 59.24 L40.78 59.46 L41.04 59.63 L41.3 59.78 L41.56 59.9 L41.82 59.99 L42.08 60.06 L42.34 60.12 L42.6 60.17 L42.86 60.2 L43.12 60.23 L43.38 60.25 L43.64 60.26 L43.9 60.27 L44.16 60.28 L44.42 60.29 L44.68 60.29 L44.94 60.29 L45.2 60.3 L45.46 60.3 L45.72 60.3 L45.98 60.3 L46.24 60.3 L46.5 60.3 L46.76 60.3 L47.02 60.3 L47.28 60.3 L47.54 60.3 L47.8 60.3 L48.06 60.3 L48.32 60.3 L48.58 60.3 L48.84 60.3 L49.1 60.3 L49.36 60.3 L49.62 60.3 L49.88 60.3 L50.14 60.3 L50.4 60.3 L50.66 60.3 L50.92 60.3 L51.18 60.3 L51.44 60.3 L51.7 60.3 L51.96 60.3 L52.22 60.3 L52.48 60.3 L52.74 60.3 L53 60.3 L53.26 60.3 L53.52 60.3 L53.78 60.3 L54.04 60.3 L54.3 60.3 L54.56 60.3 L54.82 60.3 L55.08 60.3 L55.34 60.3 L55.6 60.3 L55.86 60.3 L56.12 60.3 L56.38 60.3 L56.64 60.3 L56.9 60.3 L57.16 60.3 L57.42 60.3 L57.68 60.3 L57.94 60.3 L58.2 60.3 L58.46 60.3 L58.72 60.3 L58.98 60.3 L59.24 60.3 L59.5 60.3 L59.76 60.3 L60.02 60.3 L60.28 60.3 L60.54 60.3 L60.8 60.3 L61.06 60.3 L61.32 60.3 L61.58 60.3 L61.84 60.3 L62.1 60.3 L62.36 60.3 L62.62 60.3 L62.88 60.3 L63.14 60.3 L63.4 60.3 L63.66 60.3 L63.92 60.3 L64.18 60.3 L64.44 60.3 L64.7 60.3 L64.96 60.3 L65.22 60.3 L65.48 60.3 L65.74 60.3 L66 60.3 L66.26 60.3 L66.52 60.3 L66.78 60.3 L67.04 60.3 L67.3 60.3 L67.56 60.3 L67.82 60.3 L68.08 60.3 L68.34 60.3 L68.6 60.3 L68.86 60.3 L69.12 60.3 L69.38 60.3 L69.64 60.3 L69.9 60.3 L70.16 60.3 L70.42 60.3 L70.68 60.3 L70.94 60.3 L71.2 60.3 L71.46 60.3 L71.72 60.3 L71.98 60.3 L72.24 60.3 L72.5 60.3 L72.76 60.3 L73.02 60.3 L73.28 60.3 L73.54 60.3 L73.8 60.3 L74.06 60.3 L74.32 60.3 L74.58 60.3 L74.84 60.3 L75.1 60.3 L75.36 60.3 L75.62 60.3 L75.88 60.3 L76.14 60.3 L76.4 60.3 L76.66 60.3 L76.92 60.3 L77.18 60.3 L77.44 60.3 L77.7 60.3 L77.96 60.3 L78.22 60.3 L78.48 60.3 L78.74 60.3 L79 60.3 L79.26 60.3 L79.52 60.3 L79.78 60.3 L80.04 60.3 L80.3 60.3" fill="none" stroke="#000" stroke-width="1.3"/>
<rect x="28.1" y="82.3" width="52.4" height="42.7" fill="none" stroke="#7a7a7a" stroke-width="0.7"/>
<text x="26.6" y="83.4" font-size="3.2" text-anchor="end" fill="#555" class="t">70</text>
<text x="26.6" y="94.4" font-size="3.2" text-anchor="end" fill="#555" class="t">53</text>
<text x="26.6" y="104.7" font-size="3.2" text-anchor="end" fill="#555" class="t">35</text>
<text x="26.6" y="115.4" font-size="3.2" text-anchor="end" fill="#555" class="t">18</text>
<text x="26.6" y="126.1" font-size="3.2" text-anchor="end" fill="#555" class="t">0</text>
<text x="29.5" y="132.2" font-size="3.4" text-anchor="middle" fill="#444" class="t">10<tspan font-size="2.11" dy="-1.53">0</tspan></text>
<text x="42" y="132.2" font-size="3.4" text-anchor="middle" fill="#444" class="t">10<tspan font-size="2.11" dy="-1.53">1</tspan></text>
<text x="55.3" y="132.2" font-size="3.4" text-anchor="middle" fill="#444" class="t">10<tspan font-size="2.11" dy="-1.53">2</tspan></text>
<text x="68" y="132.2" font-size="3.4" text-anchor="middle" fill="#444" class="t">10<tspan font-size="2.11" dy="-1.53">3</tspan></text>
<text x="80.5" y="132.2" font-size="3.4" text-anchor="middle" fill="#444" class="t">10<tspan font-size="2.11" dy="-1.53">4</tspan></text>
<path d="M28.3 124.95 L28.73 124.9 L29.17 124.83 L29.6 124.71 L30.03 124.53 L30.47 124.25 L30.9 123.83 L31.33 123.22 L31.77 122.38 L32.2 121.24 L32.63 119.76 L33.07 117.89 L33.5 115.63 L33.93 112.98 L34.37 110 L34.8 106.8 L35.23 103.52 L35.67 100.35 L36.1 97.48 L36.53 95.12 L36.97 93.45 L37.4 92.6 L37.83 92.55 L38.27 92.91 L38.7 93.6 L39.13 94.6 L39.57 95.87 L40 97.4 L40.43 99.11 L40.87 100.98 L41.3 102.95 L41.73 104.97 L42.17 107 L42.6 109 L43.03 110.92 L43.47 112.75 L43.9 114.45 L44.33 116.01 L44.77 117.42 L45.2 118.68 L45.63 119.78 L46.07 120.74 L46.5 121.56 L46.93 122.25 L47.37 122.82 L47.8 123.3 L48.23 123.68 L48.67 123.99 L49.1 124.23 L49.53 124.43 L49.97 124.57 L50.4 124.69 L50.83 124.77 L51.27 124.84 L51.7 124.88 L52.13 124.92 L52.57 124.94 L53 124.96 L53.43 124.97 L53.87 124.98 L54.3 124.99 L54.73 124.99 L55.17 124.99 L55.6 125 L56.03 125 L56.47 125 L56.9 125 L57.33 125 L57.77 125 L58.2 125 L58.63 125 L59.07 125 L59.5 125 L59.93 125 L60.37 125 L60.8 125 L61.23 125 L61.67 125 L62.1 125 L62.53 125 L62.97 125 L63.4 125 L63.83 125 L64.27 125 L64.7 125 L65.13 125 L65.57 125 L66 125 L66.43 125 L66.87 125 L67.3 125 L67.73 125 L68.17 125 L68.6 125 L69.03 125 L69.47 125 L69.9 125 L70.33 125 L70.77 125 L71.2 125 L71.63 125 L72.07 125 L72.5 125 L72.93 125 L73.37 125 L73.8 125 L74.23 125 L74.67 125 L75.1 125 L75.53 125 L75.97 125 L76.4 125 L76.83 125 L77.27 125 L77.7 125 L78.13 125 L78.57 125 L79 125 L79.43 125 L79.87 125 L80.3 125" fill="none" stroke="#000" stroke-width="1.3"/>
<path d="M28.3 125 L28.73 125 L29.17 125 L29.6 125 L30.03 125 L30.47 125 L30.9 125 L31.33 125 L31.77 125 L32.2 125 L32.63 125 L33.07 125 L33.5 125 L33.93 125 L34.37 125 L34.8 125 L35.23 125 L35.67 125 L36.1 125 L36.53 125 L36.97 125 L37.4 125 L37.83 125 L38.27 125 L38.7 125 L39.13 125 L39.57 125 L40 125 L40.43 125 L40.87 125 L41.3 124.99 L41.73 124.99 L42.17 124.98 L42.6 124.96 L43.03 124.93 L43.47 124.87 L43.9 124.77 L44.33 124.62 L44.77 124.38 L45.2 124.02 L45.63 123.48 L46.07 122.72 L46.5 121.67 L46.93 120.27 L47.37 118.46 L47.8 116.21 L48.23 113.51 L48.67 110.38 L49.1 106.92 L49.53 103.25 L49.97 99.55 L50.4 96.04 L50.83 92.95 L51.27 90.5 L51.7 88.87 L52.13 88.21 L52.57 88.39 L53 89.1 L53.43 90.3 L53.87 91.94 L54.3 93.96 L54.73 96.27 L55.17 98.8 L55.6 101.44 L56.03 104.12 L56.47 106.77 L56.9 109.31 L57.33 111.69 L57.77 113.87 L58.2 115.82 L58.63 117.55 L59.07 119.03 L59.5 120.29 L59.93 121.34 L60.37 122.19 L60.8 122.88 L61.23 123.42 L61.67 123.84 L62.1 124.16 L62.53 124.4 L62.97 124.58 L63.4 124.71 L63.83 124.8 L64.27 124.87 L64.7 124.91 L65.13 124.94 L65.57 124.96 L66 124.98 L66.43 124.99 L66.87 124.99 L67.3 124.99 L67.73 125 L68.17 125 L68.6 125 L69.03 125 L69.47 125 L69.9 125 L70.33 125 L70.77 125 L71.2 125 L71.63 125 L72.07 125 L72.5 125 L72.93 125 L73.37 125 L73.8 125 L74.23 125 L74.67 125 L75.1 125 L75.53 125 L75.97 125 L76.4 125 L76.83 125 L77.27 125 L77.7 125 L78.13 125 L78.57 125 L79 125 L79.43 125 L79.87 125 L80.3 125" fill="none" stroke="#777" stroke-width="0.8"/>
<path d="M18.5 136.3V85.5M81.5 136.3H19" stroke="#000" stroke-width="0.9" fill="none"/>
<path d="M16.9 86.8L18.5 83.4L20.1 86.8Z M80.2 134.7L83.6 136.3L80.2 137.9Z" fill="#000"/>
<text x="15.2" y="124.7" font-size="8" text-anchor="middle" font-weight="bold" fill="#000" textLength="22.6" lengthAdjust="spacingAndGlyphs" transform="rotate(-90 15.2 124.7)">Counts</text>
<text x="49.9" y="145.1" font-size="8" text-anchor="middle" font-weight="bold" fill="#000" textLength="62.2" lengthAdjust="spacingAndGlyphs">Melanotransferrin</text>
<text x="542.2" y="374.7" font-size="18.5" font-weight="bold" fill="#000">I</text>
<path d="M547.3 363.3H710.3V492" fill="none" stroke="#e6e6e6" stroke-width="0.8"/>
<line x1="598.3" y1="376" x2="598.3" y2="469.6" stroke="#d8d8d8" stroke-width="0.8"/>
<line x1="598.3" y1="469.6" x2="702.7" y2="469.6" stroke="#e0e0e0" stroke-width="0.8"/>
<rect x="598.3" y="382.4" width="33.4" height="7.8" fill="#f2f2f2" stroke="#6f6f6f" stroke-width="0.6"/>
<rect x="598.3" y="390.2" width="97" height="7.6" fill="#bfbfbf" stroke="#6f6f6f" stroke-width="0.6"/>
<line x1="631.7" y1="386.3" x2="633.6" y2="386.3" stroke="#555" stroke-width="0.5"/>
<line x1="633.6" y1="385.1" x2="633.6" y2="387.5" stroke="#555" stroke-width="0.5"/>
<line x1="695.3" y1="394" x2="697.9" y2="394" stroke="#555" stroke-width="0.5"/>
<line x1="697.9" y1="392.8" x2="697.9" y2="395.2" stroke="#555" stroke-width="0.5"/>
<rect x="598.3" y="405.05" width="20.3" height="7.8" fill="#f2f2f2" stroke="#6f6f6f" stroke-width="0.6"/>
<rect x="598.3" y="412.85" width="70.3" height="7.6" fill="#bfbfbf" stroke="#6f6f6f" stroke-width="0.6"/>
<line x1="618.6" y1="408.95" x2="621" y2="408.95" stroke="#555" stroke-width="0.5"/>
<line x1="621" y1="407.75" x2="621" y2="410.15" stroke="#555" stroke-width="0.5"/>
<line x1="668.6" y1="416.65" x2="669.6" y2="416.65" stroke="#555" stroke-width="0.5"/>
<line x1="669.6" y1="415.45" x2="669.6" y2="417.85" stroke="#555" stroke-width="0.5"/>
<rect x="598.3" y="427.7" width="24.2" height="7.8" fill="#f2f2f2" stroke="#6f6f6f" stroke-width="0.6"/>
<rect x="598.3" y="435.5" width="94.4" height="7.6" fill="#bfbfbf" stroke="#6f6f6f" stroke-width="0.6"/>
<line x1="622.5" y1="431.6" x2="625.9" y2="431.6" stroke="#555" stroke-width="0.5"/>
<line x1="625.9" y1="430.4" x2="625.9" y2="432.8" stroke="#555" stroke-width="0.5"/>
<line x1="692.7" y1="439.3" x2="696.6" y2="439.3" stroke="#555" stroke-width="0.5"/>
<line x1="696.6" y1="438.1" x2="696.6" y2="440.5" stroke="#555" stroke-width="0.5"/>
<rect x="598.3" y="450.35" width="0.9" height="7.8" fill="#f2f2f2" stroke="#6f6f6f" stroke-width="0.6"/>
<rect x="598.3" y="458.15" width="50.9" height="7.6" fill="#bfbfbf" stroke="#6f6f6f" stroke-width="0.6"/>
<line x1="649.2" y1="461.95" x2="650.3" y2="461.95" stroke="#555" stroke-width="0.5"/>
<line x1="650.3" y1="460.75" x2="650.3" y2="463.15" stroke="#555" stroke-width="0.5"/>
<text x="591.4" y="392.9" font-size="6.7" text-anchor="end" font-weight="bold" textLength="24.3" lengthAdjust="spacingAndGlyphs">recIL-18</text>
<text x="591.4" y="411" font-size="6.7" text-anchor="end" font-weight="bold" textLength="33" lengthAdjust="spacingAndGlyphs">memIL-18-</text>
<text x="591.4" y="420" font-size="6.7" text-anchor="end" font-weight="bold" textLength="35" lengthAdjust="spacingAndGlyphs">TLR4-CD40</text>
<text x="591.4" y="437.7" font-size="6.7" text-anchor="end" font-weight="bold" textLength="31.5" lengthAdjust="spacingAndGlyphs">memIL-18</text>
<text x="591.4" y="461" font-size="6.7" text-anchor="end" font-weight="bold" textLength="23" lengthAdjust="spacingAndGlyphs">irr.RNA</text>
<text x="551.8" y="422.6" font-size="6.7" text-anchor="middle" font-weight="bold" textLength="31.6" lengthAdjust="spacingAndGlyphs" transform="rotate(-90 551.8 422.6)">Treatment</text>
<text x="598.1" y="481.2" font-size="6.6" text-anchor="middle" font-weight="bold">0</text>
<text x="627.9" y="481.2" font-size="6.6" text-anchor="middle" font-weight="bold">10</text>
<text x="657.5" y="481.2" font-size="6.6" text-anchor="middle" font-weight="bold">20</text>
<text x="687.5" y="481.2" font-size="6.6" text-anchor="middle" font-weight="bold">30</text>
<text x="644.7" y="489" font-size="6.6" text-anchor="middle" class="r" textLength="44.1" lengthAdjust="spacingAndGlyphs">Cytotoxicity %</text>
<rect x="609.2" y="367.5" width="3.5" height="3.5" fill="#fff" stroke="#555" stroke-width="0.6"/>
<text x="614.7" y="371.6" font-size="6.7" font-weight="bold" textLength="39.1" lengthAdjust="spacingAndGlyphs">with irr.RNA</text>
<rect x="664" y="367.5" width="3.5" height="3.5" fill="#bfbfbf" stroke="#555" stroke-width="0.6"/>
<text x="669.9" y="371.6" font-size="6.7" font-weight="bold" textLength="28" lengthAdjust="spacingAndGlyphs">with CAR</text>
<path d="M700.6 393.1H703.6V464.2H700.6" fill="none" stroke="#4a4a4a" stroke-width="0.8"/>
<circle cx="706.6" cy="423.7" r="0.75" fill="#222"/>
<circle cx="706.6" cy="426.8" r="0.75" fill="#222"/>
<circle cx="706.6" cy="429.9" r="0.75" fill="#222"/>
<path d="M712.5 417.6H715.5V464.2H712.5" fill="none" stroke="#4a4a4a" stroke-width="0.8"/>
<circle cx="718.3" cy="435.85" r="0.75" fill="#222"/>
<circle cx="718.3" cy="438.95" r="0.75" fill="#222"/>
<path d="M724 440.2H727V464.2H724" fill="none" stroke="#4a4a4a" stroke-width="0.8"/>
<circle cx="730.2" cy="448.6" r="0.75" fill="#222"/>
<circle cx="730.2" cy="451.7" r="0.75" fill="#222"/>
<circle cx="730.2" cy="454.8" r="0.75" fill="#222"/>
<rect x="-1.8" y="554.33" width="13.2" height="14.19" fill="#fff"/>
<text x="-0.8" y="567.2" font-size="16.5" font-weight="bold" fill="#000">J</text>
<rect x="28.3" y="556.2" width="40" height="12.2" fill="none" stroke="#ececec" stroke-width="0.7"/>
<rect x="80.5" y="548" width="189" height="20.3" fill="none" stroke="#ececec" stroke-width="0.7"/>
<rect x="28.3" y="636.8" width="40.3" height="17.2" fill="none" stroke="#ececec" stroke-width="0.7"/>
<rect x="93.4" y="636.8" width="41" height="17.2" fill="none" stroke="#ececec" stroke-width="0.7"/>
<rect x="137.6" y="636.2" width="125.7" height="17.8" fill="none" stroke="#ececec" stroke-width="0.7"/>
<text x="48.2" y="564.8" font-size="6.3" text-anchor="middle" font-weight="bold" textLength="20.9" lengthAdjust="spacingAndGlyphs">irr.RNA</text>
<text x="110.5" y="556.7" font-size="6.3" text-anchor="middle" font-weight="bold" textLength="29.3" lengthAdjust="spacingAndGlyphs">memIL-18</text>
<text x="110.5" y="564.9" font-size="6.3" text-anchor="middle" font-weight="bold">+irr.RNA</text>
<text x="175.3" y="556.7" font-size="6.3" text-anchor="middle" font-weight="bold" textLength="62.4" lengthAdjust="spacingAndGlyphs">memIL-18-TLR4-CD40</text>
<text x="175.3" y="564.9" font-size="6.3" text-anchor="middle" font-weight="bold">+irr.RNA</text>
<text x="238.3" y="556.7" font-size="6.3" text-anchor="middle" font-weight="bold" textLength="22.7" lengthAdjust="spacingAndGlyphs">recIL-18</text>
<text x="238.3" y="564.9" font-size="6.3" text-anchor="middle" font-weight="bold">+irr.RNA</text>
<text x="48.3" y="645.3" font-size="6.3" text-anchor="middle" font-weight="bold" textLength="21.2" lengthAdjust="spacingAndGlyphs">irr.RNA</text>
<text x="48.3" y="653" font-size="6.3" text-anchor="middle" font-weight="bold">+CAR</text>
<text x="112.4" y="645.3" font-size="6.3" text-anchor="middle" font-weight="bold" textLength="29.1" lengthAdjust="spacingAndGlyphs">memIL-18</text>
<text x="112.4" y="653" font-size="6.3" text-anchor="middle" font-weight="bold">+CAR</text>
<text x="175.3" y="644.8" font-size="6.3" text-anchor="middle" font-weight="bold" textLength="62.4" lengthAdjust="spacingAndGlyphs">memIL-18-TLR4-CD40</text>
<text x="175.3" y="653" font-size="6.3" text-anchor="middle" font-weight="bold">+CAR</text>
<text x="237.9" y="645.3" font-size="6.3" text-anchor="middle" font-weight="bold" textLength="23.6" lengthAdjust="spacingAndGlyphs">recIL-18</text>
<text x="237.9" y="653" font-size="6.3" text-anchor="middle" font-weight="bold">+CAR</text>
<rect x="23" y="569" width="53.2" height="52.6" fill="#fff"/>
<path d="M23.6 621.06 L24.68 621.03 L25.77 620.96 L26.85 620.83 L27.93 620.62 L29.02 620.27 L30.1 619.72 L31.18 618.87 L32.27 617.77 L33.35 615.73 L34.43 613.84 L35.52 610.47 L36.6 605.39 L37.68 603.56 L38.77 597.93 L39.85 590.93 L40.93 589.2 L42.02 584.3 L43.1 575.43 L44.18 571.34 L45.27 574.14 L46.35 576.15 L47.43 579.3 L48.52 576.99 L49.6 586.26 L50.68 589.9 L51.77 595.49 L52.85 600.76 L53.93 604.85 L55.02 609.09 L56.1 612.99 L57.18 615.46 L58.27 617.42 L59.35 618.84 L60.43 619.68 L61.52 619.94 L62.6 620.17 L63.68 620.37 L64.77 620.53 L65.85 620.66 L66.93 620.77 L68.02 620.85 L69.1 620.92 L70.18 620.97 L71.27 621.01 L72.35 621.03 L73.43 621.05 L74.52 621.07 L75.6 621.08 L75.6 621.6 L23.6 621.6 Z" fill="#dedede" stroke="#333" stroke-width="0.75"/>
<rect x="23" y="569" width="53.2" height="52.6" fill="none" stroke="#6a6a6a" stroke-width="0.6"/>
<text x="20.8" y="570.2" font-size="3" text-anchor="middle" fill="#555" transform="rotate(-90 20.8 570.2)" class="t">40</text>
<text x="20.8" y="579.5" font-size="3" text-anchor="middle" fill="#555" transform="rotate(-90 20.8 579.5)" class="t">30</text>
<text x="20.8" y="600.4" font-size="3" text-anchor="middle" fill="#555" transform="rotate(-90 20.8 600.4)" class="t">20</text>
<text x="20.8" y="621.3" font-size="3" text-anchor="middle" fill="#555" transform="rotate(-90 20.8 621.3)" class="t">0</text>
<text x="25.4" y="628" font-size="3.5" text-anchor="middle" fill="#444" class="t">10<tspan font-size="2.17" dy="-1.57">3.4</tspan></text>
<text x="47.21" y="628" font-size="3.5" text-anchor="middle" fill="#444" class="t">10<tspan font-size="2.17" dy="-1.57">4</tspan></text>
<text x="74.87" y="628" font-size="3.5" text-anchor="middle" fill="#444" class="t">10<tspan font-size="2.17" dy="-1.57">4.7</tspan></text>
<rect x="87.1" y="569.1" width="52.2" height="52.2" fill="#fff"/>
<path d="M87.7 620.77 L88.76 620.74 L89.82 620.69 L90.89 620.6 L91.95 620.43 L93.01 620.16 L94.07 619.73 L95.14 619.06 L96.2 618.19 L97.26 616.88 L98.32 614.78 L99.39 612.62 L100.45 609.01 L101.51 605.96 L102.58 600.21 L103.64 595.02 L104.7 591 L105.76 583.2 L106.83 584.14 L107.89 573.56 L108.95 575.6 L110.01 574.3 L111.08 577.83 L112.14 578.15 L113.2 581.22 L114.26 588.16 L115.33 588.72 L116.39 594.27 L117.45 599.5 L118.51 603.98 L119.58 607.43 L120.64 611.67 L121.7 614.23 L122.76 615.96 L123.83 617.61 L124.89 618.37 L125.95 618.65 L127.01 618.61 L128.08 619.01 L129.14 619.24 L130.2 619.45 L131.26 619.64 L132.33 619.81 L133.39 619.96 L134.45 620.1 L135.51 620.22 L136.58 620.32 L137.64 620.41 L138.7 620.48 L138.7 621.3 L87.7 621.3 Z" fill="#a8a8a8" fill-opacity="0.3" stroke="none"/>
<path d="M87.7 620.77 L88.76 620.74 L89.82 620.69 L90.89 620.6 L91.95 620.43 L93.01 620.16 L94.07 619.73 L95.14 619.06 L96.2 618.19 L97.26 616.88 L98.32 614.78 L99.39 612.62 L100.45 609.01 L101.51 605.96 L102.58 600.21 L103.64 595.02 L104.7 591 L105.76 583.2 L106.83 584.14 L107.89 573.56 L108.95 575.6 L110.01 574.3 L111.08 577.83 L112.14 578.15 L113.2 581.22 L114.26 588.16 L115.33 588.72 L116.39 594.27 L117.45 599.5 L118.51 603.98 L119.58 607.43 L120.64 611.67 L121.7 614.23 L122.76 615.96 L123.83 617.61 L124.89 618.37 L125.95 618.65 L127.01 618.61 L128.08 619.01 L129.14 619.24 L130.2 619.45 L131.26 619.64 L132.33 619.81 L133.39 619.96 L134.45 620.1 L135.51 620.22 L136.58 620.32 L137.64 620.41 L138.7 620.48" fill="none" stroke="#222" stroke-width="0.75"/>
<path d="M87.7 620.79 L88.76 620.79 L89.82 620.77 L90.89 620.74 L91.95 620.68 L93.01 620.57 L94.07 620.38 L95.14 620.06 L96.2 619.54 L97.26 618.63 L98.32 617.5 L99.39 615.68 L100.45 614.23 L101.51 610.34 L102.58 606.31 L103.64 602.58 L104.7 597.67 L105.76 593.7 L106.83 587.82 L107.89 582.03 L108.95 576.07 L110.01 575.73 L111.08 575.31 L112.14 576.24 L113.2 579.19 L114.26 578.99 L115.33 586.03 L116.39 591.99 L117.45 594.09 L118.51 599.08 L119.58 602.61 L120.64 607.74 L121.7 610.63 L122.76 613.87 L123.83 615.84 L124.89 617.68 L125.95 618.25 L127.01 618.63 L128.08 618.8 L129.14 619.01 L130.2 619.24 L131.26 619.45 L132.33 619.64 L133.39 619.81 L134.45 619.96 L135.51 620.1 L136.58 620.22 L137.64 620.32 L138.7 620.4 L138.7 621.3 L87.7 621.3 Z" fill="#d86a6a" fill-opacity="0.22" stroke="none"/>
<path d="M87.7 620.79 L88.76 620.79 L89.82 620.77 L90.89 620.74 L91.95 620.68 L93.01 620.57 L94.07 620.38 L95.14 620.06 L96.2 619.54 L97.26 618.63 L98.32 617.5 L99.39 615.68 L100.45 614.23 L101.51 610.34 L102.58 606.31 L103.64 602.58 L104.7 597.67 L105.76 593.7 L106.83 587.82 L107.89 582.03 L108.95 576.07 L110.01 575.73 L111.08 575.31 L112.14 576.24 L113.2 579.19 L114.26 578.99 L115.33 586.03 L116.39 591.99 L117.45 594.09 L118.51 599.08 L119.58 602.61 L120.64 607.74 L121.7 610.63 L122.76 613.87 L123.83 615.84 L124.89 617.68 L125.95 618.25 L127.01 618.63 L128.08 618.8 L129.14 619.01 L130.2 619.24 L131.26 619.45 L132.33 619.64 L133.39 619.81 L134.45 619.96 L135.51 620.1 L136.58 620.22 L137.64 620.32 L138.7 620.4" fill="none" stroke="#e8393a" stroke-width="0.75"/>
<rect x="87.1" y="569.1" width="52.2" height="52.2" fill="none" stroke="#6a6a6a" stroke-width="0.6"/>
<text x="84.9" y="570.2" font-size="3" text-anchor="middle" fill="#555" transform="rotate(-90 84.9 570.2)" class="t">75</text>
<text x="84.9" y="584.4" font-size="3" text-anchor="middle" fill="#555" transform="rotate(-90 84.9 584.4)" class="t">50</text>
<text x="84.9" y="602.6" font-size="3" text-anchor="middle" fill="#555" transform="rotate(-90 84.9 602.6)" class="t">25</text>
<text x="84.9" y="621.3" font-size="3" text-anchor="middle" fill="#555" transform="rotate(-90 84.9 621.3)" class="t">0</text>
<text x="89.47" y="627.7" font-size="3.5" text-anchor="middle" fill="#444" class="t">10<tspan font-size="2.17" dy="-1.57">3.4</tspan></text>
<text x="110.87" y="627.7" font-size="3.5" text-anchor="middle" fill="#444" class="t">10<tspan font-size="2.17" dy="-1.57">4</tspan></text>
<text x="138.01" y="627.7" font-size="3.5" text-anchor="middle" fill="#444" class="t">10<tspan font-size="2.17" dy="-1.57">4.7</tspan></text>
<rect x="149.9" y="569.1" width="52.2" height="52.1" fill="#fff"/>
<path d="M150.5 620.66 L151.56 620.62 L152.62 620.55 L153.69 620.43 L154.75 620.22 L155.81 619.88 L156.88 619.35 L157.94 618.67 L159 617.24 L160.06 615.57 L161.12 613.93 L162.19 610.52 L163.25 607.56 L164.31 604.19 L165.38 599.46 L166.44 592.04 L167.5 589.86 L168.56 585.56 L169.62 581.28 L170.69 576.72 L171.75 574.41 L172.81 574.39 L173.88 576.15 L174.94 577.78 L176 581.27 L177.06 590.15 L178.12 593.94 L179.19 597.15 L180.25 604.51 L181.31 608.5 L182.38 610.74 L183.44 613.33 L184.5 615.75 L185.56 617.59 L186.62 617.93 L187.69 618.28 L188.75 618.6 L189.81 618.92 L190.88 619.02 L191.94 619.24 L193 619.44 L194.06 619.62 L195.12 619.79 L196.19 619.93 L197.25 620.06 L198.31 620.17 L199.38 620.26 L200.44 620.34 L201.5 620.41 L201.5 621.2 L150.5 621.2 Z" fill="#a8a8a8" fill-opacity="0.3" stroke="none"/>
<path d="M150.5 620.66 L151.56 620.62 L152.62 620.55 L153.69 620.43 L154.75 620.22 L155.81 619.88 L156.88 619.35 L157.94 618.67 L159 617.24 L160.06 615.57 L161.12 613.93 L162.19 610.52 L163.25 607.56 L164.31 604.19 L165.38 599.46 L166.44 592.04 L167.5 589.86 L168.56 585.56 L169.62 581.28 L170.69 576.72 L171.75 574.41 L172.81 574.39 L173.88 576.15 L174.94 577.78 L176 581.27 L177.06 590.15 L178.12 593.94 L179.19 597.15 L180.25 604.51 L181.31 608.5 L182.38 610.74 L183.44 613.33 L184.5 615.75 L185.56 617.59 L186.62 617.93 L187.69 618.28 L188.75 618.6 L189.81 618.92 L190.88 619.02 L191.94 619.24 L193 619.44 L194.06 619.62 L195.12 619.79 L196.19 619.93 L197.25 620.06 L198.31 620.17 L199.38 620.26 L200.44 620.34 L201.5 620.41" fill="none" stroke="#222" stroke-width="0.75"/>
<path d="M150.5 620.7 L151.56 620.7 L152.62 620.69 L153.69 620.67 L154.75 620.64 L155.81 620.58 L156.88 620.46 L157.94 620.23 L159 619.83 L160.06 619.15 L161.12 617.89 L162.19 616.68 L163.25 613.74 L164.31 611.75 L165.38 606.9 L166.44 602.29 L167.5 598.63 L168.56 594.07 L169.62 588.38 L170.69 588.79 L171.75 584.02 L172.81 576.73 L173.88 578.8 L174.94 578.9 L176 581 L177.06 589.14 L178.12 589.76 L179.19 596.39 L180.25 601.37 L181.31 606.96 L182.38 610.46 L183.44 613.23 L184.5 615.1 L185.56 616.98 L186.62 618.13 L187.69 618.12 L188.75 618.65 L189.81 618.65 L190.88 618.96 L191.94 619.18 L193 619.38 L194.06 619.57 L195.12 619.74 L196.19 619.88 L197.25 620.01 L198.31 620.13 L199.38 620.23 L200.44 620.31 L201.5 620.39 L201.5 621.2 L150.5 621.2 Z" fill="#d86a6a" fill-opacity="0.22" stroke="none"/>
<path d="M150.5 620.7 L151.56 620.7 L152.62 620.69 L153.69 620.67 L154.75 620.64 L155.81 620.58 L156.88 620.46 L157.94 620.23 L159 619.83 L160.06 619.15 L161.12 617.89 L162.19 616.68 L163.25 613.74 L164.31 611.75 L165.38 606.9 L166.44 602.29 L167.5 598.63 L168.56 594.07 L169.62 588.38 L170.69 588.79 L171.75 584.02 L172.81 576.73 L173.88 578.8 L174.94 578.9 L176 581 L177.06 589.14 L178.12 589.76 L179.19 596.39 L180.25 601.37 L181.31 606.96 L182.38 610.46 L183.44 613.23 L184.5 615.1 L185.56 616.98 L186.62 618.13 L187.69 618.12 L188.75 618.65 L189.81 618.65 L190.88 618.96 L191.94 619.18 L193 619.38 L194.06 619.57 L195.12 619.74 L196.19 619.88 L197.25 620.01 L198.31 620.13 L199.38 620.23 L200.44 620.31 L201.5 620.39" fill="none" stroke="#e8393a" stroke-width="0.75"/>
<rect x="149.9" y="569.1" width="52.2" height="52.1" fill="none" stroke="#6a6a6a" stroke-width="0.6"/>
<text x="147.7" y="570.2" font-size="3" text-anchor="middle" fill="#555" transform="rotate(-90 147.7 570.2)" class="t">75</text>
<text x="147.7" y="584.4" font-size="3" text-anchor="middle" fill="#555" transform="rotate(-90 147.7 584.4)" class="t">50</text>
<text x="147.7" y="602.6" font-size="3" text-anchor="middle" fill="#555" transform="rotate(-90 147.7 602.6)" class="t">25</text>
<text x="147.7" y="621.3" font-size="3" text-anchor="middle" fill="#555" transform="rotate(-90 147.7 621.3)" class="t">0</text>
<text x="152.27" y="627.6" font-size="3.5" text-anchor="middle" fill="#444" class="t">10<tspan font-size="2.17" dy="-1.57">3.4</tspan></text>
<text x="173.67" y="627.6" font-size="3.5" text-anchor="middle" fill="#444" class="t">10<tspan font-size="2.17" dy="-1.57">4</tspan></text>
<text x="200.81" y="627.6" font-size="3.5" text-anchor="middle" fill="#444" class="t">10<tspan font-size="2.17" dy="-1.57">4.7</tspan></text>
<rect x="213.8" y="569.1" width="50.6" height="52.1" fill="#fff"/>
<path d="M214.4 620.67 L215.43 620.63 L216.46 620.57 L217.49 620.47 L218.52 620.28 L219.55 619.97 L220.57 619.49 L221.6 618.59 L222.63 617.48 L223.66 615.94 L224.69 614.11 L225.72 611.06 L226.75 608.75 L227.78 604.83 L228.81 597.99 L229.84 592.22 L230.87 589.96 L231.9 581.68 L232.92 578.71 L233.95 579.34 L234.98 574.58 L236.01 574.28 L237.04 577.81 L238.07 579.01 L239.1 585.19 L240.13 590.41 L241.16 593.53 L242.19 596.43 L243.22 603.97 L244.25 607.5 L245.27 610.48 L246.3 614.07 L247.33 615.77 L248.36 617.64 L249.39 618.27 L250.42 618.71 L251.45 618.73 L252.48 618.95 L253.51 619.15 L254.54 619.34 L255.57 619.52 L256.6 619.68 L257.62 619.82 L258.65 619.95 L259.68 620.07 L260.71 620.17 L261.74 620.26 L262.77 620.33 L263.8 620.4 L263.8 621.2 L214.4 621.2 Z" fill="#a8a8a8" fill-opacity="0.3" stroke="none"/>
<path d="M214.4 620.67 L215.43 620.63 L216.46 620.57 L217.49 620.47 L218.52 620.28 L219.55 619.97 L220.57 619.49 L221.6 618.59 L222.63 617.48 L223.66 615.94 L224.69 614.11 L225.72 611.06 L226.75 608.75 L227.78 604.83 L228.81 597.99 L229.84 592.22 L230.87 589.96 L231.9 581.68 L232.92 578.71 L233.95 579.34 L234.98 574.58 L236.01 574.28 L237.04 577.81 L238.07 579.01 L239.1 585.19 L240.13 590.41 L241.16 593.53 L242.19 596.43 L243.22 603.97 L244.25 607.5 L245.27 610.48 L246.3 614.07 L247.33 615.77 L248.36 617.64 L249.39 618.27 L250.42 618.71 L251.45 618.73 L252.48 618.95 L253.51 619.15 L254.54 619.34 L255.57 619.52 L256.6 619.68 L257.62 619.82 L258.65 619.95 L259.68 620.07 L260.71 620.17 L261.74 620.26 L262.77 620.33 L263.8 620.4" fill="none" stroke="#222" stroke-width="0.75"/>
<path d="M214.4 620.7 L215.43 620.69 L216.46 620.68 L217.49 620.66 L218.52 620.61 L219.55 620.52 L220.57 620.37 L221.6 620.11 L222.63 619.67 L223.66 618.98 L224.69 617.7 L225.72 616.17 L226.75 614.05 L227.78 611.62 L228.81 607.67 L229.84 604.89 L230.87 600.25 L231.9 592.3 L232.92 586.26 L233.95 584.91 L234.98 577.12 L236.01 575.9 L237.04 575.72 L238.07 576.1 L239.1 580.44 L240.13 582.02 L241.16 583.79 L242.19 589.49 L243.22 593.97 L244.25 596.35 L245.27 598.36 L246.3 604.7 L247.33 607.45 L248.36 609.8 L249.39 613.1 L250.42 614.09 L251.45 615.1 L252.48 615.89 L253.51 616.88 L254.54 617.06 L255.57 617.37 L256.6 618.16 L257.62 618.47 L258.65 618.68 L259.68 619.14 L260.71 619.42 L261.74 619.65 L262.77 619.85 L263.8 620.02 L263.8 621.2 L214.4 621.2 Z" fill="#d86a6a" fill-opacity="0.22" stroke="none"/>
<path d="M214.4 620.7 L215.43 620.69 L216.46 620.68 L217.49 620.66 L218.52 620.61 L219.55 620.52 L220.57 620.37 L221.6 620.11 L222.63 619.67 L223.66 618.98 L224.69 617.7 L225.72 616.17 L226.75 614.05 L227.78 611.62 L228.81 607.67 L229.84 604.89 L230.87 600.25 L231.9 592.3 L232.92 586.26 L233.95 584.91 L234.98 577.12 L236.01 575.9 L237.04 575.72 L238.07 576.1 L239.1 580.44 L240.13 582.02 L241.16 583.79 L242.19 589.49 L243.22 593.97 L244.25 596.35 L245.27 598.36 L246.3 604.7 L247.33 607.45 L248.36 609.8 L249.39 613.1 L250.42 614.09 L251.45 615.1 L252.48 615.89 L253.51 616.88 L254.54 617.06 L255.57 617.37 L256.6 618.16 L257.62 618.47 L258.65 618.68 L259.68 619.14 L260.71 619.42 L261.74 619.65 L262.77 619.85 L263.8 620.02" fill="none" stroke="#e8393a" stroke-width="0.75"/>
<rect x="213.8" y="569.1" width="50.6" height="52.1" fill="none" stroke="#6a6a6a" stroke-width="0.6"/>
<text x="211.6" y="570.2" font-size="3" text-anchor="middle" fill="#555" transform="rotate(-90 211.6 570.2)" class="t">75</text>
<text x="211.6" y="584.4" font-size="3" text-anchor="middle" fill="#555" transform="rotate(-90 211.6 584.4)" class="t">50</text>
<text x="211.6" y="602.6" font-size="3" text-anchor="middle" fill="#555" transform="rotate(-90 211.6 602.6)" class="t">25</text>
<text x="211.6" y="621.3" font-size="3" text-anchor="middle" fill="#555" transform="rotate(-90 211.6 621.3)" class="t">0</text>
<text x="216.12" y="627.6" font-size="3.5" text-anchor="middle" fill="#444" class="t">10<tspan font-size="2.17" dy="-1.57">3.4</tspan></text>
<text x="236.86" y="627.6" font-size="3.5" text-anchor="middle" fill="#444" class="t">10<tspan font-size="2.17" dy="-1.57">4</tspan></text>
<text x="263.18" y="627.6" font-size="3.5" text-anchor="middle" fill="#444" class="t">10<tspan font-size="2.17" dy="-1.57">4.7</tspan></text>
<rect x="23" y="657.1" width="51.7" height="51.4" fill="#fff"/>
<path d="M23.6 707.98 L24.65 707.97 L25.7 707.94 L26.76 707.88 L27.81 707.77 L28.86 707.58 L29.91 707.27 L30.96 706.76 L32.02 705.82 L33.07 704.8 L34.12 703.23 L35.17 700.95 L36.23 697.61 L37.28 693.29 L38.33 690.45 L39.38 686.47 L40.43 680.86 L41.49 677.68 L42.54 669.45 L43.59 662.85 L44.64 666.15 L45.69 662.57 L46.75 660.87 L47.8 667.37 L48.85 665.82 L49.9 673.31 L50.95 679.7 L52.01 686.62 L53.06 691.01 L54.11 693.54 L55.16 698.91 L56.21 701.25 L57.27 703.6 L58.32 705.28 L59.37 705.46 L60.42 705.94 L61.48 705.96 L62.53 706.24 L63.58 706.44 L64.63 706.64 L65.68 706.81 L66.74 706.98 L67.79 707.12 L68.84 707.26 L69.89 707.37 L70.94 707.48 L72 707.56 L73.05 707.64 L74.1 707.71 L74.1 708.5 L23.6 708.5 Z" fill="#a8a8a8" fill-opacity="0.3" stroke="none"/>
<path d="M23.6 707.98 L24.65 707.97 L25.7 707.94 L26.76 707.88 L27.81 707.77 L28.86 707.58 L29.91 707.27 L30.96 706.76 L32.02 705.82 L33.07 704.8 L34.12 703.23 L35.17 700.95 L36.23 697.61 L37.28 693.29 L38.33 690.45 L39.38 686.47 L40.43 680.86 L41.49 677.68 L42.54 669.45 L43.59 662.85 L44.64 666.15 L45.69 662.57 L46.75 660.87 L47.8 667.37 L48.85 665.82 L49.9 673.31 L50.95 679.7 L52.01 686.62 L53.06 691.01 L54.11 693.54 L55.16 698.91 L56.21 701.25 L57.27 703.6 L58.32 705.28 L59.37 705.46 L60.42 705.94 L61.48 705.96 L62.53 706.24 L63.58 706.44 L64.63 706.64 L65.68 706.81 L66.74 706.98 L67.79 707.12 L68.84 707.26 L69.89 707.37 L70.94 707.48 L72 707.56 L73.05 707.64 L74.1 707.71" fill="none" stroke="#222" stroke-width="0.75"/>
<path d="M23.6 707.99 L24.65 707.98 L25.7 707.96 L26.76 707.93 L27.81 707.86 L28.86 707.73 L29.91 707.52 L30.96 707.17 L32.02 706.62 L33.07 705.61 L34.12 704.76 L35.17 702.73 L36.23 700.46 L37.28 696.53 L38.33 693.97 L39.38 689.47 L40.43 684.09 L41.49 679.92 L42.54 671.82 L43.59 667.22 L44.64 664.54 L45.69 667.4 L46.75 663 L47.8 659.53 L48.85 664.51 L49.9 666.49 L50.95 669.98 L52.01 673.78 L53.06 675.49 L54.11 682.98 L55.16 687.37 L56.21 688.15 L57.27 693.92 L58.32 696.84 L59.37 699.13 L60.42 700.74 L61.48 703.11 L62.53 704.71 L63.58 705.31 L64.63 705.7 L65.68 706.12 L66.74 706.26 L67.79 706.54 L68.84 706.79 L69.89 707.01 L70.94 707.19 L72 707.35 L73.05 707.48 L74.1 707.59 L74.1 708.5 L23.6 708.5 Z" fill="#d86a6a" fill-opacity="0.22" stroke="none"/>
<path d="M23.6 707.99 L24.65 707.98 L25.7 707.96 L26.76 707.93 L27.81 707.86 L28.86 707.73 L29.91 707.52 L30.96 707.17 L32.02 706.62 L33.07 705.61 L34.12 704.76 L35.17 702.73 L36.23 700.46 L37.28 696.53 L38.33 693.97 L39.38 689.47 L40.43 684.09 L41.49 679.92 L42.54 671.82 L43.59 667.22 L44.64 664.54 L45.69 667.4 L46.75 663 L47.8 659.53 L48.85 664.51 L49.9 666.49 L50.95 669.98 L52.01 673.78 L53.06 675.49 L54.11 682.98 L55.16 687.37 L56.21 688.15 L57.27 693.92 L58.32 696.84 L59.37 699.13 L60.42 700.74 L61.48 703.11 L62.53 704.71 L63.58 705.31 L64.63 705.7 L65.68 706.12 L66.74 706.26 L67.79 706.54 L68.84 706.79 L69.89 707.01 L70.94 707.19 L72 707.35 L73.05 707.48 L74.1 707.59" fill="none" stroke="#e8393a" stroke-width="0.75"/>
<rect x="23" y="657.1" width="51.7" height="51.4" fill="none" stroke="#6a6a6a" stroke-width="0.6"/>
<text x="20.8" y="658.5" font-size="3" text-anchor="middle" fill="#555" transform="rotate(-90 20.8 658.5)" class="t">75</text>
<text x="20.8" y="673.5" font-size="3" text-anchor="middle" fill="#555" transform="rotate(-90 20.8 673.5)" class="t">50</text>
<text x="20.8" y="691" font-size="3" text-anchor="middle" fill="#555" transform="rotate(-90 20.8 691)" class="t">25</text>
<text x="20.8" y="709" font-size="3" text-anchor="middle" fill="#555" transform="rotate(-90 20.8 709)" class="t">0</text>
<text x="25.35" y="714.9" font-size="3.5" text-anchor="middle" fill="#444" class="t">10<tspan font-size="2.17" dy="-1.57">3.4</tspan></text>
<text x="46.55" y="714.9" font-size="3.5" text-anchor="middle" fill="#444" class="t">10<tspan font-size="2.17" dy="-1.57">4</tspan></text>
<text x="73.43" y="714.9" font-size="3.5" text-anchor="middle" fill="#444" class="t">10<tspan font-size="2.17" dy="-1.57">4.7</tspan></text>
<rect x="85.6" y="657.4" width="52.2" height="51.3" fill="#fff"/>
<path d="M86.2 708.18 L87.26 708.16 L88.32 708.12 L89.39 708.04 L90.45 707.9 L91.51 707.66 L92.57 707.24 L93.64 706.57 L94.7 705.45 L95.76 704.28 L96.82 702.37 L97.89 699.3 L98.95 694.83 L100.01 691.66 L101.08 684.49 L102.14 680.09 L103.2 675.15 L104.26 669.46 L105.33 665.58 L106.39 663.21 L107.45 662.22 L108.51 660.27 L109.58 663.63 L110.64 668.61 L111.7 676.46 L112.76 680.14 L113.83 685.56 L114.89 687.78 L115.95 692.47 L117.01 697.8 L118.08 700.36 L119.14 703.5 L120.2 704.66 L121.26 705.98 L122.33 705.91 L123.39 706.21 L124.45 706.48 L125.51 706.69 L126.58 706.88 L127.64 707.06 L128.7 707.22 L129.76 707.36 L130.83 707.49 L131.89 707.61 L132.95 707.71 L134.01 707.79 L135.08 707.87 L136.14 707.93 L137.2 707.98 L137.2 708.7 L86.2 708.7 Z" fill="#a8a8a8" fill-opacity="0.3" stroke="none"/>
<path d="M86.2 708.18 L87.26 708.16 L88.32 708.12 L89.39 708.04 L90.45 707.9 L91.51 707.66 L92.57 707.24 L93.64 706.57 L94.7 705.45 L95.76 704.28 L96.82 702.37 L97.89 699.3 L98.95 694.83 L100.01 691.66 L101.08 684.49 L102.14 680.09 L103.2 675.15 L104.26 669.46 L105.33 665.58 L106.39 663.21 L107.45 662.22 L108.51 660.27 L109.58 663.63 L110.64 668.61 L111.7 676.46 L112.76 680.14 L113.83 685.56 L114.89 687.78 L115.95 692.47 L117.01 697.8 L118.08 700.36 L119.14 703.5 L120.2 704.66 L121.26 705.98 L122.33 705.91 L123.39 706.21 L124.45 706.48 L125.51 706.69 L126.58 706.88 L127.64 707.06 L128.7 707.22 L129.76 707.36 L130.83 707.49 L131.89 707.61 L132.95 707.71 L134.01 707.79 L135.08 707.87 L136.14 707.93 L137.2 707.98" fill="none" stroke="#222" stroke-width="0.75"/>
<path d="M86.2 708.12 L87.26 708.07 L88.32 707.99 L89.39 707.87 L90.45 707.7 L91.51 707.44 L92.57 707.08 L93.64 706.58 L94.7 705.89 L95.76 704.93 L96.82 703.97 L97.89 701.86 L98.95 700.14 L100.01 697.75 L101.08 695.68 L102.14 691.61 L103.2 688.38 L104.26 685.14 L105.33 683.56 L106.39 678.06 L107.45 671.1 L108.51 670.08 L109.58 668.3 L110.64 663.94 L111.7 666.11 L112.76 662.31 L113.83 662.32 L114.89 664.69 L115.95 663.05 L117.01 668.13 L118.08 672.03 L119.14 672.26 L120.2 679.02 L121.26 683.46 L122.33 688.81 L123.39 690.66 L124.45 694.35 L125.51 697.71 L126.58 699.14 L127.64 701.73 L128.7 703.15 L129.76 703.37 L130.83 704.2 L131.89 704.25 L132.95 704.86 L134.01 705.42 L135.08 705.73 L136.14 705.85 L137.2 706.3 L137.2 708.7 L86.2 708.7 Z" fill="#d86a6a" fill-opacity="0.22" stroke="none"/>
<path d="M86.2 708.12 L87.26 708.07 L88.32 707.99 L89.39 707.87 L90.45 707.7 L91.51 707.44 L92.57 707.08 L93.64 706.58 L94.7 705.89 L95.76 704.93 L96.82 703.97 L97.89 701.86 L98.95 700.14 L100.01 697.75 L101.08 695.68 L102.14 691.61 L103.2 688.38 L104.26 685.14 L105.33 683.56 L106.39 678.06 L107.45 671.1 L108.51 670.08 L109.58 668.3 L110.64 663.94 L111.7 666.11 L112.76 662.31 L113.83 662.32 L114.89 664.69 L115.95 663.05 L117.01 668.13 L118.08 672.03 L119.14 672.26 L120.2 679.02 L121.26 683.46 L122.33 688.81 L123.39 690.66 L124.45 694.35 L125.51 697.71 L126.58 699.14 L127.64 701.73 L128.7 703.15 L129.76 703.37 L130.83 704.2 L131.89 704.25 L132.95 704.86 L134.01 705.42 L135.08 705.73 L136.14 705.85 L137.2 706.3" fill="none" stroke="#e8393a" stroke-width="0.75"/>
<rect x="85.6" y="657.4" width="52.2" height="51.3" fill="none" stroke="#6a6a6a" stroke-width="0.6"/>
<text x="83.4" y="658.5" font-size="3" text-anchor="middle" fill="#555" transform="rotate(-90 83.4 658.5)" class="t">75</text>
<text x="83.4" y="673.5" font-size="3" text-anchor="middle" fill="#555" transform="rotate(-90 83.4 673.5)" class="t">50</text>
<text x="83.4" y="691" font-size="3" text-anchor="middle" fill="#555" transform="rotate(-90 83.4 691)" class="t">25</text>
<text x="83.4" y="709" font-size="3" text-anchor="middle" fill="#555" transform="rotate(-90 83.4 709)" class="t">0</text>
<text x="87.97" y="715.1" font-size="3.5" text-anchor="middle" fill="#444" class="t">10<tspan font-size="2.17" dy="-1.57">3.4</tspan></text>
<text x="109.37" y="715.1" font-size="3.5" text-anchor="middle" fill="#444" class="t">10<tspan font-size="2.17" dy="-1.57">4</tspan></text>
<text x="136.51" y="715.1" font-size="3.5" text-anchor="middle" fill="#444" class="t">10<tspan font-size="2.17" dy="-1.57">4.7</tspan></text>
<rect x="149.3" y="657.1" width="52.2" height="51.8" fill="#fff"/>
<path d="M149.9 708.19 L150.96 708.04 L152.03 707.81 L153.09 707.45 L154.15 706.93 L155.21 706.32 L156.28 704.96 L157.34 704.09 L158.4 702.02 L159.46 699.85 L160.53 695.78 L161.59 692.93 L162.65 690.46 L163.71 684.09 L164.78 678.17 L165.84 678.19 L166.9 670.61 L167.96 666.31 L169.03 661.27 L170.09 659.65 L171.15 662.4 L172.21 659.45 L173.28 669.88 L174.34 673.7 L175.4 675.24 L176.46 681.61 L177.53 686.89 L178.59 691.82 L179.65 697.6 L180.71 700.48 L181.78 703.21 L182.84 705.28 L183.9 705.86 L184.96 705.87 L186.03 706.29 L187.09 706.38 L188.15 706.7 L189.21 706.91 L190.28 707.1 L191.34 707.27 L192.4 707.43 L193.46 707.58 L194.53 707.7 L195.59 707.82 L196.65 707.91 L197.71 708 L198.78 708.07 L199.84 708.13 L200.9 708.18 L200.9 708.9 L149.9 708.9 Z" fill="#a8a8a8" fill-opacity="0.3" stroke="none"/>
<path d="M149.9 708.19 L150.96 708.04 L152.03 707.81 L153.09 707.45 L154.15 706.93 L155.21 706.32 L156.28 704.96 L157.34 704.09 L158.4 702.02 L159.46 699.85 L160.53 695.78 L161.59 692.93 L162.65 690.46 L163.71 684.09 L164.78 678.17 L165.84 678.19 L166.9 670.61 L167.96 666.31 L169.03 661.27 L170.09 659.65 L171.15 662.4 L172.21 659.45 L173.28 669.88 L174.34 673.7 L175.4 675.24 L176.46 681.61 L177.53 686.89 L178.59 691.82 L179.65 697.6 L180.71 700.48 L181.78 703.21 L182.84 705.28 L183.9 705.86 L184.96 705.87 L186.03 706.29 L187.09 706.38 L188.15 706.7 L189.21 706.91 L190.28 707.1 L191.34 707.27 L192.4 707.43 L193.46 707.58 L194.53 707.7 L195.59 707.82 L196.65 707.91 L197.71 708 L198.78 708.07 L199.84 708.13 L200.9 708.18" fill="none" stroke="#222" stroke-width="0.75"/>
<path d="M149.9 708.16 L150.96 708.04 L152.03 707.87 L153.09 707.64 L154.15 707.32 L155.21 706.89 L156.28 706.38 L157.34 705.61 L158.4 704.6 L159.46 703.42 L160.53 702.6 L161.59 700.22 L162.65 698.77 L163.71 695.43 L164.78 691.97 L165.84 689.53 L166.9 688.47 L167.96 684.06 L169.03 681.81 L170.09 677.93 L171.15 675.22 L172.21 668.21 L173.28 666.32 L174.34 664.55 L175.4 664.56 L176.46 663.18 L177.53 662.91 L178.59 659.94 L179.65 661.21 L180.71 665.35 L181.78 669.09 L182.84 672.99 L183.9 675.13 L184.96 681.09 L186.03 681.38 L187.09 685.98 L188.15 689.26 L189.21 691.83 L190.28 695.98 L191.34 698.29 L192.4 699.9 L193.46 702.48 L194.53 703.7 L195.59 705.1 L196.65 705.59 L197.71 705.89 L198.78 705.95 L199.84 706.19 L200.9 706.62 L200.9 708.9 L149.9 708.9 Z" fill="#d86a6a" fill-opacity="0.22" stroke="none"/>
<path d="M149.9 708.16 L150.96 708.04 L152.03 707.87 L153.09 707.64 L154.15 707.32 L155.21 706.89 L156.28 706.38 L157.34 705.61 L158.4 704.6 L159.46 703.42 L160.53 702.6 L161.59 700.22 L162.65 698.77 L163.71 695.43 L164.78 691.97 L165.84 689.53 L166.9 688.47 L167.96 684.06 L169.03 681.81 L170.09 677.93 L171.15 675.22 L172.21 668.21 L173.28 666.32 L174.34 664.55 L175.4 664.56 L176.46 663.18 L177.53 662.91 L178.59 659.94 L179.65 661.21 L180.71 665.35 L181.78 669.09 L182.84 672.99 L183.9 675.13 L184.96 681.09 L186.03 681.38 L187.09 685.98 L188.15 689.26 L189.21 691.83 L190.28 695.98 L191.34 698.29 L192.4 699.9 L193.46 702.48 L194.53 703.7 L195.59 705.1 L196.65 705.59 L197.71 705.89 L198.78 705.95 L199.84 706.19 L200.9 706.62" fill="none" stroke="#e8393a" stroke-width="0.75"/>
<rect x="149.3" y="657.1" width="52.2" height="51.8" fill="none" stroke="#6a6a6a" stroke-width="0.6"/>
<text x="147.1" y="658.5" font-size="3" text-anchor="middle" fill="#555" transform="rotate(-90 147.1 658.5)" class="t">75</text>
<text x="147.1" y="673.5" font-size="3" text-anchor="middle" fill="#555" transform="rotate(-90 147.1 673.5)" class="t">50</text>
<text x="147.1" y="691" font-size="3" text-anchor="middle" fill="#555" transform="rotate(-90 147.1 691)" class="t">25</text>
<text x="147.1" y="709" font-size="3" text-anchor="middle" fill="#555" transform="rotate(-90 147.1 709)" class="t">0</text>
<text x="151.67" y="715.3" font-size="3.5" text-anchor="middle" fill="#444" class="t">10<tspan font-size="2.17" dy="-1.57">3.4</tspan></text>
<text x="173.07" y="715.3" font-size="3.5" text-anchor="middle" fill="#444" class="t">10<tspan font-size="2.17" dy="-1.57">4</tspan></text>
<text x="200.21" y="715.3" font-size="3.5" text-anchor="middle" fill="#444" class="t">10<tspan font-size="2.17" dy="-1.57">4.7</tspan></text>
<rect x="212.8" y="657.1" width="52.7" height="51.8" fill="#fff"/>
<path d="M213.4 708.36 L214.47 708.33 L215.55 708.26 L216.62 708.13 L217.69 707.92 L218.76 707.56 L219.84 706.98 L220.91 706.1 L221.98 705.08 L223.06 702.54 L224.13 699.86 L225.2 696.15 L226.28 692.83 L227.35 689.81 L228.42 685.59 L229.49 679.7 L230.57 670.44 L231.64 667.29 L232.71 664.07 L233.79 659.9 L234.86 662.46 L235.93 660.11 L237 667.64 L238.08 671.23 L239.15 678.22 L240.22 680.93 L241.3 688.18 L242.37 692.62 L243.44 698.02 L244.51 701.01 L245.59 703.78 L246.66 705.36 L247.73 705.8 L248.81 705.93 L249.88 706.26 L250.95 706.58 L252.02 706.8 L253.1 707 L254.17 707.18 L255.24 707.35 L256.32 707.51 L257.39 707.64 L258.46 707.76 L259.54 707.87 L260.61 707.96 L261.68 708.04 L262.75 708.11 L263.83 708.16 L264.9 708.21 L264.9 708.9 L213.4 708.9 Z" fill="#a8a8a8" fill-opacity="0.3" stroke="none"/>
<path d="M213.4 708.36 L214.47 708.33 L215.55 708.26 L216.62 708.13 L217.69 707.92 L218.76 707.56 L219.84 706.98 L220.91 706.1 L221.98 705.08 L223.06 702.54 L224.13 699.86 L225.2 696.15 L226.28 692.83 L227.35 689.81 L228.42 685.59 L229.49 679.7 L230.57 670.44 L231.64 667.29 L232.71 664.07 L233.79 659.9 L234.86 662.46 L235.93 660.11 L237 667.64 L238.08 671.23 L239.15 678.22 L240.22 680.93 L241.3 688.18 L242.37 692.62 L243.44 698.02 L244.51 701.01 L245.59 703.78 L246.66 705.36 L247.73 705.8 L248.81 705.93 L249.88 706.26 L250.95 706.58 L252.02 706.8 L253.1 707 L254.17 707.18 L255.24 707.35 L256.32 707.51 L257.39 707.64 L258.46 707.76 L259.54 707.87 L260.61 707.96 L261.68 708.04 L262.75 708.11 L263.83 708.16 L264.9 708.21" fill="none" stroke="#222" stroke-width="0.75"/>
<path d="M213.4 708.39 L214.47 708.39 L215.55 708.38 L216.62 708.36 L217.69 708.32 L218.76 708.25 L219.84 708.13 L220.91 707.94 L221.98 707.63 L223.06 707.16 L224.13 706.5 L225.2 705.21 L226.28 703.99 L227.35 702.63 L228.42 700.42 L229.49 697.21 L230.57 693.95 L231.64 689.3 L232.71 684.68 L233.79 677.2 L234.86 675.09 L235.93 670.26 L237 668.42 L238.08 661.32 L239.15 663.08 L240.22 662.99 L241.3 661.28 L242.37 667.95 L243.44 665.16 L244.51 670.78 L245.59 675.41 L246.66 677.12 L247.73 682.01 L248.81 683.87 L249.88 686.47 L250.95 691.3 L252.02 694.21 L253.1 696.46 L254.17 699.37 L255.24 701.08 L256.32 703.01 L257.39 704.42 L258.46 705.05 L259.54 706.1 L260.61 706.25 L261.68 706.7 L262.75 706.96 L263.83 707.19 L264.9 707.4 L264.9 708.9 L213.4 708.9 Z" fill="#d86a6a" fill-opacity="0.22" stroke="none"/>
<path d="M213.4 708.39 L214.47 708.39 L215.55 708.38 L216.62 708.36 L217.69 708.32 L218.76 708.25 L219.84 708.13 L220.91 707.94 L221.98 707.63 L223.06 707.16 L224.13 706.5 L225.2 705.21 L226.28 703.99 L227.35 702.63 L228.42 700.42 L229.49 697.21 L230.57 693.95 L231.64 689.3 L232.71 684.68 L233.79 677.2 L234.86 675.09 L235.93 670.26 L237 668.42 L238.08 661.32 L239.15 663.08 L240.22 662.99 L241.3 661.28 L242.37 667.95 L243.44 665.16 L244.51 670.78 L245.59 675.41 L246.66 677.12 L247.73 682.01 L248.81 683.87 L249.88 686.47 L250.95 691.3 L252.02 694.21 L253.1 696.46 L254.17 699.37 L255.24 701.08 L256.32 703.01 L257.39 704.42 L258.46 705.05 L259.54 706.1 L260.61 706.25 L261.68 706.7 L262.75 706.96 L263.83 707.19 L264.9 707.4" fill="none" stroke="#e8393a" stroke-width="0.75"/>
<rect x="212.8" y="657.1" width="52.7" height="51.8" fill="none" stroke="#6a6a6a" stroke-width="0.6"/>
<text x="210.6" y="658.5" font-size="3" text-anchor="middle" fill="#555" transform="rotate(-90 210.6 658.5)" class="t">75</text>
<text x="210.6" y="673.5" font-size="3" text-anchor="middle" fill="#555" transform="rotate(-90 210.6 673.5)" class="t">50</text>
<text x="210.6" y="691" font-size="3" text-anchor="middle" fill="#555" transform="rotate(-90 210.6 691)" class="t">25</text>
<text x="210.6" y="709" font-size="3" text-anchor="middle" fill="#555" transform="rotate(-90 210.6 709)" class="t">0</text>
<text x="215.18" y="715.3" font-size="3.5" text-anchor="middle" fill="#444" class="t">10<tspan font-size="2.17" dy="-1.57">3.4</tspan></text>
<text x="236.79" y="715.3" font-size="3.5" text-anchor="middle" fill="#444" class="t">10<tspan font-size="2.17" dy="-1.57">4</tspan></text>
<text x="264.19" y="715.3" font-size="3.5" text-anchor="middle" fill="#444" class="t">10<tspan font-size="2.17" dy="-1.57">4.7</tspan></text>
<path d="M11.8 721.5V658.5M72.5 721.5H11.8" stroke="#000" stroke-width="0.9" fill="none"/>
<path d="M10.2 659.6L11.8 656L13.4 659.6Z M71.2 719.9L74.6 721.5L71.2 723.1Z" fill="#000"/>
<text x="9.1" y="708.6" font-size="7" text-anchor="middle" font-weight="bold" fill="#000" textLength="27.6" lengthAdjust="spacingAndGlyphs" transform="rotate(-90 9.1 708.6)">Count (%)</text>
<text x="35.9" y="730" font-size="7" text-anchor="middle" font-weight="bold" fill="#000" textLength="47.2" lengthAdjust="spacingAndGlyphs">Active caspase 3</text>
</g></svg>
</body></html>
